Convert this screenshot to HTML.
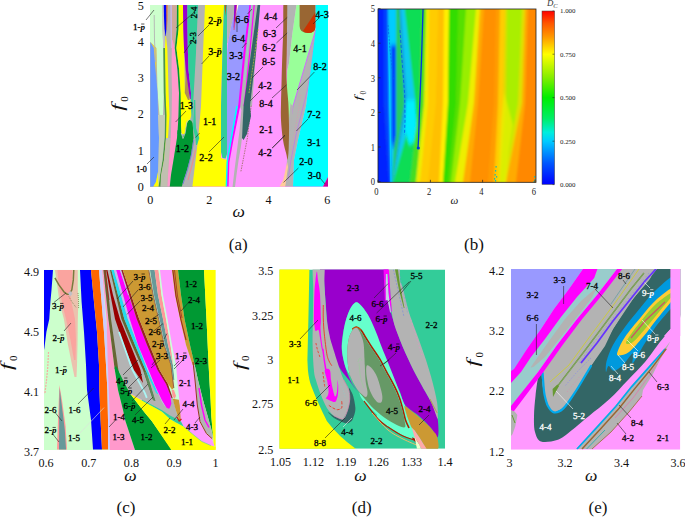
<!DOCTYPE html>
<html><head><meta charset="utf-8"><title>Figure</title>
<style>
html,body{margin:0;padding:0;background:#fff;}
svg{display:block;font-family:"Liberation Serif",serif;}
</style></head><body>
<svg width="685" height="517" viewBox="0 0 685 517">
<rect width="685" height="517" fill="#fff"/>
<clipPath id="ca"><rect x="150.0" y="5.0" width="178.0" height="181.9"/></clipPath>
<g clip-path="url(#ca)">
<polygon points="150.0,5.0 328.0,5.0 328.0,186.9 150.0,186.9" fill="#ff99ff" />
<polygon points="150.0,5.0 206.0,5.0 202.0,106.0 193.0,187.0 150.0,187.0" fill="#b3b3b3" />
<polygon points="150.0,5.0 150.0,29.0 150.0,42.0 156.3,48.0 157.0,70.0 157.6,93.0 159.5,115.0 161.0,126.0 162.0,126.0 163.0,115.0 163.8,93.0 163.5,70.0 163.3,48.0 163.0,42.0 162.5,29.0 162.4,5.0" fill="#ccffcc" />
<polygon points="150.4,42.0 153.7,48.0 155.0,60.0 155.8,75.0 156.2,75.0 156.5,60.0 156.3,48.0 150.6,42.0" fill="#e8d040" />
<polygon points="150.4,42.0 150.4,48.0 150.4,70.0 150.4,93.0 150.4,115.0 150.4,138.0 150.4,160.0 150.4,172.0 150.4,182.0 150.4,186.5 153.3,186.5 156.0,182.0 158.0,172.0 158.5,160.0 159.0,138.0 158.0,115.0 157.6,93.0 155.5,70.0 153.7,48.0 150.4,42.0" fill="#6699ff" />
<polygon points="158.0,172.0 156.0,182.0 153.3,186.5 158.6,186.5 159.5,182.0 159.5,172.0" fill="#ffff00" />
<polyline points="154.2,15.0 154.5,40.0 155.5,62.0" fill="none" stroke="#b3b3b3" stroke-width="0.9" />
<polygon points="162.4,5.0 162.5,29.0 163.3,48.0 165.0,48.0 164.0,29.0 163.8,5.0" fill="#c8c8c8" />
<polygon points="163.8,5.0 164.0,18.0 164.6,29.0 165.5,36.0 165.8,36.0 166.4,29.0 166.6,18.0 166.4,5.0" fill="#0000ff" />
<polygon points="166.4,5.0 166.6,20.0 166.6,30.0 166.9,30.0 167.6,20.0 167.7,5.0" fill="#ff6600" />
<polygon points="167.7,5.0 167.5,29.0 167.3,48.0 168.0,70.0 168.6,93.0 169.5,115.0 168.0,138.0 170.7,138.0 171.6,115.0 172.5,93.0 171.5,70.0 170.8,48.0 170.5,29.0 170.3,5.0" fill="#b3b3b3" />
<polygon points="170.3,5.0 170.5,29.0 170.8,48.0 172.0,48.0 172.0,29.0 172.0,5.0" fill="#c8b4e0" />
<polygon points="172.0,5.0 172.0,29.0 172.0,48.0 174.3,48.0 176.5,29.0 177.0,5.0" fill="#cfa898" />
<polygon points="165.5,36.0 165.0,48.0 165.2,70.0 165.5,93.0 166.4,115.0 166.0,138.0 164.0,160.0 161.0,175.0 163.0,175.0 166.0,160.0 168.0,138.0 169.5,115.0 168.6,93.0 168.0,70.0 167.3,48.0 166.0,36.0" fill="#ffff00" />
<polygon points="163.3,48.0 163.6,70.0 163.8,93.0 165.0,115.0 164.5,138.0 162.5,160.0 160.0,175.0 158.6,186.5 160.6,186.5 161.5,175.0 164.0,160.0 166.0,138.0 166.4,115.0 165.5,93.0 165.2,70.0 165.0,48.0" fill="#4c9944" />
<polygon points="158.0,115.0 159.0,138.0 158.5,160.0 158.0,175.0 158.6,186.5 158.6,186.5 160.0,175.0 162.5,160.0 164.5,138.0 165.0,115.0" fill="#c4ccb8" />
<polygon points="166.0,138.0 164.0,160.0 161.0,175.0 160.6,186.5 167.4,186.5 168.0,175.0 169.0,160.0 170.7,138.0" fill="#c0c0b0" />
<polygon points="172.0,40.0 171.8,48.0 171.5,70.0 172.0,93.0 171.6,115.0 170.7,138.0 169.0,160.0 168.0,175.0 167.4,186.5 169.8,186.5 171.0,175.0 173.5,160.0 177.0,138.0 178.5,115.0 179.0,93.0 177.5,70.0 174.8,48.0 172.5,40.0" fill="#ff99cc" />
<polygon points="177.0,5.0 176.8,29.0 174.8,48.0 177.5,70.0 179.0,93.0 178.5,115.0 177.5,134.0 181.5,134.0 181.0,115.0 180.7,93.0 179.2,70.0 176.4,48.0 178.6,29.0 178.6,5.0" fill="#009933" />
<polygon points="178.6,5.0 178.6,29.0 176.4,48.0 179.2,70.0 180.7,93.0 180.8,100.0 181.0,115.0 181.0,125.0 181.5,134.0 185.0,134.0 188.0,125.0 191.5,115.0 190.5,100.0 184.8,93.0 184.5,70.0 184.0,48.0 183.3,29.0 183.0,5.0" fill="#ffff00" />
<polygon points="185.5,60.0 185.5,80.0 184.8,93.0 188.0,100.0 189.5,100.0 189.0,93.0 187.5,80.0 186.0,60.0" fill="#b09050" />
<polygon points="183.0,5.0 183.3,29.0 184.0,48.0 185.8,70.0 189.0,93.0 190.0,99.0 190.8,99.0 191.0,93.0 188.5,70.0 187.8,48.0 187.5,29.0 187.4,5.0" fill="#9900cc" />
<polygon points="187.4,5.0 187.5,29.0 187.8,48.0 188.5,70.0 191.0,93.0 190.8,102.0 191.5,115.0 192.5,128.0 193.2,128.0 194.0,115.0 194.5,102.0 195.3,93.0 196.0,70.0 196.6,48.0 198.0,29.0 198.4,5.0" fill="#33cc99" />
<polygon points="198.0,5.0 205.0,5.0 203.0,53.0 201.0,106.0 198.0,140.0 193.0,186.4 187.0,186.4 191.0,150.0 193.0,106.0 196.0,53.0" fill="#b3b3b3" />
<polygon points="205.0,5.0 224.0,5.0 222.4,53.0 221.0,106.0 221.0,158.0 227.0,160.0 227.0,186.4 192.4,186.4 198.0,140.0 201.0,106.0 203.0,53.0" fill="#ffff00" />
<path d="M181.5,134 Q183,139 185,133 Q186.5,122 189,120 Q191.5,119.5 192.5,123 L193,128 L193.5,138 L191,155 L187,170 L183,182 L181.9,186.5 L169.8,186.5 L171,175 L173.5,160 L177,138 L177.5,130 Z" fill="#009933" />
<polyline points="181.3,133.0 183.0,138.5 185.2,133.0 186.7,122.0 189.0,119.5" fill="none" stroke="#c8c8c8" stroke-width="0.8" />
<polygon points="194.0,100.0 193.5,115.0 193.0,128.0 195.4,138.0 196.0,145.0 197.0,145.0 199.3,138.0 196.0,128.0 195.5,115.0 195.3,100.0" fill="#33cc99" />
<polyline points="193.8,140.0 191.3,155.0 187.5,170.0 183.0,184.0" fill="none" stroke="#7070e0" stroke-width="0.8" />
<polyline points="195.5,150.0 192.0,165.0 188.0,180.0" fill="none" stroke="#e89090" stroke-width="1.2" />
<polygon points="224.0,5.0 227.4,5.0 227.0,53.0 227.0,106.0 227.0,154.0 225.6,158.4 222.4,158.0 221.0,152.0 221.0,106.0 222.4,53.0" fill="#33cc99" />
<polygon points="227.0,5.0 236.4,5.0 231.0,27.0 228.0,43.0 227.4,43.0" fill="#b3b3b3" />
<polygon points="236.0,5.0 250.4,5.0 244.4,53.0 239.2,106.0 232.4,140.0 228.4,162.0 227.0,161.0 227.0,106.0 227.2,53.0 228.0,43.0 231.0,27.0" fill="#9999ff" />
<polygon points="250.8,5.0 260.0,5.0 256.0,53.0 252.0,106.0 244.2,110.0 243.5,125.0 241.0,146.0 238.6,160.0 236.5,175.0 235.0,187.0 232.5,187.0 234.5,170.0 237.0,150.0 239.6,130.0 241.4,110.0 239.6,106.0 244.8,53.0" fill="#b3b3b3" />
<polyline points="251.2,105.7 247.4,138.0 240.8,172.0" fill="none" stroke="#886644" stroke-width="0.7" stroke-dasharray="1.5,1"/>
<polyline points="250.4,5.0 244.4,53.0 239.2,106.0 232.4,140.0 228.4,162.0 227.6,186.4" fill="none" stroke="#ff00ff" stroke-width="2" />
<polyline points="237.0,106.0 231.0,140.0 227.2,162.0 226.4,186.4" fill="none" stroke="#00ffff" stroke-width="1.5" />
<polyline points="251.6,5.0 247.6,48.0 244.5,80.0" fill="none" stroke="#99cccc" stroke-width="1.4" />
<polyline points="254.2,5.0 250.2,48.0 246.5,85.0 244.0,106.0" fill="none" stroke="#ff00ff" stroke-width="1.2" />
<polygon points="234.3,5.0 237.0,5.0 235.0,20.0 233.6,29.0" fill="#9900cc" />
<polyline points="236.8,5.0 235.0,22.0 234.0,30.0" fill="none" stroke="#ee3366" stroke-width="0.7" />
<polygon points="237.0,5.0 238.4,5.0 236.5,14.0" fill="#ffffdd" />
<polygon points="224.6,5.0 226.4,5.0 225.4,16.0" fill="#bb5522" />
<polygon points="257.6,5.0 260.2,5.0 256.0,53.0 250.0,106.0 251.0,116.0 247.0,134.0 243.6,140.0 242.0,138.0 243.6,106.0 251.0,53.0" fill="#336666" />
<polyline points="258.4,29.0 249.0,93.0" fill="none" stroke="#cccc33" stroke-width="0.7" stroke-dasharray="2,1"/>
<polygon points="287.0,5.0 296.4,5.0 292.4,33.0 289.0,63.0 287.2,71.0" fill="#b3b3b3" />
<polygon points="296.4,5.0 300.0,5.0 300.0,29.0 315.6,29.0 315.6,31.0 293.0,106.0 290.0,112.0 286.4,106.0 287.2,71.0 289.0,63.0 292.4,33.0" fill="#99ff99" />
<polygon points="315.6,31.0 306.0,106.0 298.0,140.0 294.0,160.0 293.0,186.4 285.0,186.4 287.0,160.0 289.0,130.0 293.0,106.0" fill="#b3b3b3" />
<polyline points="315.6,30.0 293.0,106.0 289.0,130.0" fill="none" stroke="#cc66ff" stroke-width="0.9" />
<polygon points="286.5,100.0 293.0,106.0 290.5,135.0 288.0,150.0 287.0,150.0" fill="#b3b3b3" />
<polygon points="286.8,100.0 290.5,104.0 288.6,122.0 287.6,122.0" fill="#99ff99" />
<polyline points="315.6,30.0 311.0,70.0 307.4,90.0 296.0,135.0 291.0,160.0 288.0,180.0" fill="none" stroke="#bb77ee" stroke-width="0.7" />
<polyline points="301.0,95.0 296.0,125.0 291.0,150.0" fill="none" stroke="#ee88aa" stroke-width="0.6" stroke-dasharray="1,1.5"/>
<path d="M283.6,0.0 C284.2,-5.0 286.4,-5.0 287.0,0.0 C287.6,5.0 287.0,21.2 287.0,30.0 C287.0,38.8 286.9,44.7 286.8,53.0 C286.7,61.3 286.3,71.5 286.6,80.0 C286.9,88.5 288.0,96.5 288.4,104.0 C288.8,111.5 288.9,117.7 289.0,125.0 C289.1,132.3 288.9,142.2 288.7,148.0 C288.5,153.8 288.0,158.5 287.6,159.5 C287.2,160.5 287.1,157.2 286.3,154.0 C285.5,150.8 283.9,145.7 283.0,140.0 C282.1,134.3 281.3,126.0 281.0,120.0 C280.7,114.0 280.9,110.7 281.0,104.0 C281.1,97.3 281.4,88.5 281.6,80.0 C281.8,71.5 282.1,61.3 282.4,53.0 C282.7,44.7 283.0,38.8 283.2,30.0 C283.4,21.2 283.0,5.0 283.6,0.0 Z" fill="#996633" />
<path d="M299.6,5 L315.6,5 L315.6,27 Q315,33 308,33 Q299.6,33 299.6,26 Z" fill="#996633" />
<path d="M315.6,12 L315.6,27 Q315,33 308,33 Q305,33 303,31 Z" fill="#cc3300" />
<polygon points="315.6,5.0 328.0,5.0 328.0,106.0 328.0,177.0 323.0,186.4 293.0,186.4 294.0,160.0 298.0,140.0 306.0,106.0 315.6,31.0" fill="#00ffff" />
<polygon points="279.6,186.4 285.2,186.4 288.0,167.0 287.2,162.0 283.2,180.0" fill="#ffcc99" />
<polygon points="328.0,177.0 328.0,186.4 323.0,186.4" fill="#cc0099" />
</g>
<clipPath id="cb"><rect x="378.0" y="9.0" width="158.0" height="173.3"/></clipPath>
<filter id="blb" x="-5%" y="-5%" width="110%" height="110%"><feGaussianBlur stdDeviation="1.3 2"/></filter>
<g clip-path="url(#cb)"><rect x="370" y="0" width="175" height="192" fill="#ff9900"/><g filter="url(#blb)">
<polygon points="370.0,0.0 384.5,0.0 384.5,9.0 384.5,103.0 389.5,182.0 389.5,195.0 370.0,195.0 370.0,182.0 370.0,103.0 370.0,9.0" fill="#0022ff" />
<polygon points="384.0,0.0 388.5,0.0 388.5,9.0 389.5,103.0 391.5,182.0 391.5,195.0 389.0,195.0 389.0,182.0 384.0,103.0 384.0,9.0" fill="#0044ff" />
<polygon points="388.0,0.0 396.5,0.0 396.5,9.0 396.5,103.0 392.5,182.0 392.5,195.0 391.0,195.0 391.0,182.0 389.0,103.0 388.0,9.0" fill="#00ccff" />
<polygon points="396.0,0.0 400.0,0.0 400.0,9.0 405.0,103.0 393.0,182.0 393.0,195.0 392.0,195.0 392.0,182.0 396.0,103.0 396.0,9.0" fill="#22cc66" />
<polygon points="399.5,0.0 401.5,0.0 401.5,9.0 407.5,103.0 393.3,182.0 393.3,195.0 392.5,195.0 392.5,182.0 404.5,103.0 399.5,9.0" fill="#1199ee" />
<polygon points="401.0,0.0 405.2,0.0 405.2,9.0 416.0,103.0 393.5,182.0 393.5,195.0 392.8,195.0 392.8,182.0 407.0,103.0 401.0,9.0" fill="#11ccee" />
<polygon points="404.7,0.0 422.5,0.0 422.5,9.0 419.5,103.0 410.5,182.0 410.5,195.0 393.0,195.0 393.0,182.0 415.5,103.0 404.7,9.0" fill="#11dd55" />
<polygon points="422.0,0.0 426.5,0.0 426.5,9.0 424.5,103.0 416.5,182.0 416.5,195.0 410.0,195.0 410.0,182.0 419.0,103.0 422.0,9.0" fill="#44dd22" />
<polygon points="426.0,0.0 429.5,0.0 429.5,9.0 428.5,103.0 420.5,182.0 420.5,195.0 416.0,195.0 416.0,182.0 424.0,103.0 426.0,9.0" fill="#eeee00" />
<polygon points="429.0,0.0 438.5,0.0 438.5,9.0 436.5,103.0 428.5,182.0 428.5,195.0 420.0,195.0 420.0,182.0 428.0,103.0 429.0,9.0" fill="#ffcc00" />
<polygon points="438.0,0.0 444.5,0.0 444.5,9.0 443.5,103.0 439.5,182.0 439.5,195.0 428.0,195.0 428.0,182.0 436.0,103.0 438.0,9.0" fill="#ffc000" />
<polygon points="444.0,0.0 449.5,0.0 449.5,9.0 448.5,103.0 443.5,182.0 443.5,195.0 439.0,195.0 439.0,182.0 443.0,103.0 444.0,9.0" fill="#ffee00" />
<polygon points="449.0,0.0 458.5,0.0 458.5,9.0 456.5,103.0 448.5,182.0 448.5,195.0 443.0,195.0 443.0,182.0 448.0,103.0 449.0,9.0" fill="#33dd00" />
<polygon points="458.0,0.0 466.5,0.0 466.5,9.0 460.5,103.0 451.5,182.0 451.5,195.0 448.0,195.0 448.0,182.0 456.0,103.0 458.0,9.0" fill="#55e000" />
<polygon points="466.0,0.0 476.5,0.0 476.5,9.0 468.5,103.0 455.5,182.0 455.5,195.0 451.0,195.0 451.0,182.0 460.0,103.0 466.0,9.0" fill="#99ee00" />
<polygon points="476.0,0.0 480.5,0.0 480.5,9.0 474.5,103.0 463.5,182.0 463.5,195.0 455.0,195.0 455.0,182.0 468.0,103.0 476.0,9.0" fill="#eeee00" />
<polygon points="480.0,0.0 484.5,0.0 484.5,9.0 478.5,103.0 470.5,182.0 470.5,195.0 463.0,195.0 463.0,182.0 474.0,103.0 480.0,9.0" fill="#ffaa00" />
<polygon points="484.0,0.0 496.5,0.0 496.5,9.0 494.5,103.0 488.5,182.0 488.5,195.0 470.0,195.0 470.0,182.0 478.0,103.0 484.0,9.0" fill="#ff9000" />
<polygon points="496.0,0.0 500.5,0.0 500.5,9.0 498.5,103.0 494.5,182.0 494.5,195.0 488.0,195.0 488.0,182.0 494.0,103.0 496.0,9.0" fill="#ff9c00" />
<polygon points="500.0,0.0 505.5,0.0 505.5,9.0 503.5,103.0 499.5,182.0 499.5,195.0 494.0,195.0 494.0,182.0 498.0,103.0 500.0,9.0" fill="#ffcc00" />
<polygon points="505.0,0.0 507.5,0.0 507.5,9.0 506.5,103.0 500.5,182.0 500.5,195.0 499.0,195.0 499.0,182.0 503.0,103.0 505.0,9.0" fill="#dddd00" />
<polygon points="507.0,0.0 522.5,0.0 522.5,9.0 518.5,103.0 504.5,182.0 504.5,195.0 500.0,195.0 500.0,182.0 506.0,103.0 507.0,9.0" fill="#aaee00" />
<polygon points="522.0,0.0 525.5,0.0 525.5,9.0 522.5,103.0 506.5,182.0 506.5,195.0 504.0,195.0 504.0,182.0 518.0,103.0 522.0,9.0" fill="#e0e000" />
<polygon points="525.0,0.0 528.5,0.0 528.5,9.0 525.5,103.0 516.5,182.0 516.5,195.0 506.0,195.0 506.0,182.0 522.0,103.0 525.0,9.0" fill="#ffaa00" />
<polygon points="528.0,0.0 545.5,0.0 545.5,9.0 545.5,103.0 545.5,182.0 545.5,195.0 516.0,195.0 516.0,182.0 525.0,103.0 528.0,9.0" fill="#ff8800" />
<polygon points="504.0,92.0 513.0,125.0 509.0,150.0 505.0,195.0 498.5,195.0 499.5,150.0 501.0,120.0" fill="#eeee00" opacity="0.7"/>
<polygon points="390.8,45.0 396.0,45.0 396.0,135.0 393.5,150.0 391.5,140.0" fill="#0044ff" />
<polygon points="406.0,100.0 415.0,100.0 416.5,125.0 414.0,142.0 409.0,145.0 405.0,130.0" fill="#00eeff" />
</g>
<polyline points="423.0,9.0 421.5,60.0 419.5,110.0 418.5,140.0 418.0,148.0" fill="none" stroke="#0033dd" stroke-width="1.3" />
<polyline points="388.5,35.0 389.8,95.0 390.5,150.0 391.0,182.0" fill="none" stroke="#00ccff" stroke-width="1.1" />
<polyline points="400.0,30.0 402.0,60.0 404.7,95.0 405.0,120.0 404.5,135.0" fill="none" stroke="#0055ee" stroke-width="0.8" stroke-dasharray="3,2"/>
<polyline points="388.0,25.0 390.0,50.0 393.5,80.0" fill="none" stroke="#0066ee" stroke-width="0.7" stroke-dasharray="2,1.5"/>
<circle cx="418.3" cy="148" r="1.6" fill="#0033dd"/>
<rect x="495.5" y="166.0" width="1.2" height="1.6" fill="#22bbaa"/>
<rect x="495.0" y="170.0" width="1.2" height="1.6" fill="#22bbaa"/>
<rect x="494.5" y="174.0" width="1.2" height="1.6" fill="#22bbaa"/>
<rect x="494.0" y="178.0" width="1.2" height="1.6" fill="#22bbaa"/>
<rect x="495.0" y="180.0" width="1.2" height="1.6" fill="#22bbaa"/>
<rect x="496.0" y="176.0" width="1.2" height="1.6" fill="#22bbaa"/>
<rect x="534.0" y="176.0" width="1.2" height="1.6" fill="#22bbaa"/>
<rect x="534.5" y="179.0" width="1.2" height="1.6" fill="#22bbaa"/>
<rect x="533.5" y="181.0" width="1.2" height="1.6" fill="#22bbaa"/>
</g>
<rect x="378.0" y="9.0" width="158.0" height="173.3" fill="none" stroke="#222" stroke-width="0.8"/>
<line x1="378" x2="380.5" y1="181.6" y2="181.6" stroke="#222" stroke-width="0.7"/>
<line x1="378" x2="380.5" y1="147.0" y2="147.0" stroke="#222" stroke-width="0.7"/>
<line x1="378" x2="380.5" y1="112.4" y2="112.4" stroke="#222" stroke-width="0.7"/>
<line x1="378" x2="380.5" y1="77.8" y2="77.8" stroke="#222" stroke-width="0.7"/>
<line x1="378" x2="380.5" y1="43.2" y2="43.2" stroke="#222" stroke-width="0.7"/>
<line x1="378" x2="380.5" y1="8.6" y2="8.6" stroke="#222" stroke-width="0.7"/>
<line y1="182.3" y2="179.8" x1="378.0" x2="378.0" stroke="#222" stroke-width="0.7"/>
<line y1="182.3" y2="179.8" x1="430.4" x2="430.4" stroke="#222" stroke-width="0.7"/>
<line y1="182.3" y2="179.8" x1="482.6" x2="482.6" stroke="#222" stroke-width="0.7"/>
<line y1="182.3" y2="179.8" x1="535.0" x2="535.0" stroke="#222" stroke-width="0.7"/>
<linearGradient id="cbar" x1="0" y1="1" x2="0" y2="0"><stop offset="0" stop-color="#0000ff"/><stop offset="0.12" stop-color="#0055ff"/><stop offset="0.25" stop-color="#00ccff"/><stop offset="0.3" stop-color="#00eedd"/><stop offset="0.38" stop-color="#00ee66"/><stop offset="0.5" stop-color="#00ee00"/><stop offset="0.62" stop-color="#88ee00"/><stop offset="0.75" stop-color="#ffff00"/><stop offset="0.85" stop-color="#ff9900"/><stop offset="0.93" stop-color="#ff5500"/><stop offset="1" stop-color="#ff0000"/></linearGradient>
<rect x="542" y="11" width="12.6" height="173.4" fill="url(#cbar)" stroke="#444" stroke-width="0.5"/>
<line x1="552.5" x2="554.4" y1="11.0" y2="11.0" stroke="#222" stroke-width="0.6"/>
<line x1="552.5" x2="554.4" y1="54.2" y2="54.2" stroke="#222" stroke-width="0.6"/>
<line x1="552.5" x2="554.4" y1="97.6" y2="97.6" stroke="#222" stroke-width="0.6"/>
<line x1="552.5" x2="554.4" y1="141.2" y2="141.2" stroke="#222" stroke-width="0.6"/>
<line x1="552.5" x2="554.4" y1="184.6" y2="184.6" stroke="#222" stroke-width="0.6"/>
<clipPath id="cc"><rect x="44.0" y="269.8" width="171.6" height="180.2"/></clipPath>
<g clip-path="url(#cc)">
<polygon points="44.0,269.8 215.6,269.8 215.6,450.0 44.0,450.0" fill="#ccffcc" />
<polygon points="54.9,270.0 77.8,270.0 77.8,288.0 78.3,303.0 77.8,319.0 77.5,345.0 77.0,365.0 76.5,377.0 74.5,377.0 72.0,365.0 68.0,345.0 63.9,319.0 60.9,307.7 58.9,297.8 56.9,283.0" fill="#ff9999" opacity="0.6"/>
<polygon points="57.5,270.0 72.5,270.0 72.0,284.0 70.0,293.0 72.0,305.0 75.0,319.0 76.0,340.0 75.5,360.0 74.0,360.0 70.5,340.0 66.0,319.0 62.5,305.0 60.0,292.0 58.5,283.0" fill="#ff9999" opacity="0.75"/>
<path d="M48.5,352.0 C48.4,354.3 48.1,361.3 47.8,366.0 C47.5,370.7 47.0,375.3 46.5,380.0 C46.0,384.7 45.1,391.7 44.8,394.0" fill="none" stroke="#ff9999" stroke-width="1.2" stroke-dasharray="2,1" opacity="0.8"/>
<polygon points="44.0,270.0 53.0,270.0 51.5,290.0 50.4,302.0 49.3,319.0 46.4,332.0 44.4,348.0 44.0,350.0" fill="#0000ff" />
<polygon points="57.0,449.6 58.0,420.0 59.4,385.0 62.0,400.0 65.6,426.0 67.0,449.6" fill="#ff9999" />
<polygon points="59.0,449.6 59.2,420.0 59.6,388.0 62.4,410.0 64.8,430.0 66.0,449.6" fill="#669999" />
<polyline points="54.9,277.9 58.9,284.9 63.9,291.8 67.3,294.3 69.3,294.3 71.8,289.8 73.3,279.9 73.8,270.0" fill="none" stroke="#7a7a3c" stroke-width="1.5" stroke-linejoin="round"/>
<polyline points="68.8,296.5 72.0,302.0 76.5,308.0" fill="none" stroke="#8a8a5c" stroke-width="0.9" stroke-dasharray="1,1"/>
<polyline points="78.0,293.0 78.5,300.0 78.6,308.0" fill="none" stroke="#8a8a5c" stroke-width="0.9" stroke-dasharray="1,1"/>
<polygon points="68.0,293.0 71.0,291.0 72.5,294.0 70.0,296.5" fill="#c0c0c8" />
<polygon points="80.0,270.0 91.0,270.0 94.0,302.0 97.0,332.0 99.0,365.0 99.4,390.0 100.6,420.0 102.0,449.6 93.0,449.6 91.0,420.0 87.0,390.0 86.0,365.0 84.0,332.0 81.6,302.0" fill="#0000ff" />
<polygon points="91.0,270.0 99.0,270.0 101.6,302.0 104.0,332.0 106.0,365.0 107.4,390.0 108.0,420.0 108.0,449.6 102.0,449.6 100.6,420.0 99.4,390.0 99.0,365.0 97.0,332.0 94.0,302.0" fill="#ff6600" />
<polygon points="99.0,270.0 102.0,270.0 104.4,302.0 107.0,332.0 109.0,365.0 109.6,390.0 110.0,420.0 110.0,449.6 108.0,449.6 108.0,420.0 107.4,390.0 106.0,365.0 104.0,332.0 101.6,302.0" fill="#ccccff" />
<polygon points="102.0,270.0 106.5,319.0 108.0,370.0 109.5,410.0 110.0,450.0 135.0,450.0 125.4,421.0 123.0,410.0 118.0,390.0 114.5,368.0 108.4,319.0 103.4,270.0" fill="#ff99cc" />
<polygon points="103.4,270.0 122.8,270.0 139.2,319.0 159.6,370.0 172.0,395.0 179.0,422.0 161.7,410.7 141.8,399.8 129.9,393.3 124.0,382.0 118.0,370.0 108.4,319.0" fill="#b3b3b3" />
<polygon points="103.4,270.0 108.4,319.0 114.5,368.0 120.0,382.0 121.0,381.0 118.4,370.0 111.0,319.0 106.0,270.0" fill="#666633" />
<polyline points="104.8,270.0 109.0,300.0" fill="none" stroke="#aa2222" stroke-width="0.8" />
<polygon points="106.2,270.0 110.5,295.0 115.0,319.0 124.0,345.0 134.0,370.0 143.0,383.0 143.0,383.0 140.5,370.0 130.5,345.0 120.0,319.0 113.0,295.0 107.4,270.0" fill="#990000" />
<polyline points="119.0,332.0 124.0,346.0 132.0,369.0 144.8,392.8 146.8,397.8" fill="none" stroke="#aaf4f4" stroke-width="1.8" />
<polygon points="110.0,270.0 121.4,319.0 132.0,345.0 143.0,370.0 153.0,400.0 155.0,400.8 145.5,370.0 135.0,345.0 124.3,319.0 111.4,270.0" fill="#666633" />
<polygon points="144.0,372.0 153.0,400.0 155.5,401.0 146.5,372.0" fill="#5a8a5a" />
<polygon points="111.4,270.0 124.3,319.0 135.0,345.0 145.5,370.0 156.0,393.0 158.7,394.8 147.5,370.0 138.0,345.0 127.8,319.0 113.9,270.0" fill="#22ddee" />
<polygon points="113.9,270.0 127.8,319.0 147.5,370.0 162.0,402.0 166.0,408.0 148.7,370.0 129.8,319.0 116.3,270.0" fill="#c8b8f0" />
<polygon points="116.3,270.0 129.8,319.0 138.0,345.0 148.7,370.0 154.7,384.9 161.7,399.8 166.6,407.7 168.9,408.7 169.6,408.2 171.4,403.8 170.2,394.8 165.2,382.0 157.5,370.0 147.0,345.0 136.7,319.0 119.8,270.0" fill="#ff00ff" />
<polygon points="119.8,270.0 128.0,295.0 129.0,295.0 121.3,270.0" fill="#c8b8f0" />
<polygon points="121.3,270.0 136.7,319.0 147.0,345.0 157.5,370.0 166.0,384.0 171.5,398.0 172.5,398.0 168.0,384.0 159.6,370.0 149.5,345.0 139.2,319.0 122.8,270.0" fill="#992222" />
<polygon points="122.8,270.0 148.6,270.0 153.0,295.0 158.5,319.0 164.0,345.0 171.0,365.0 172.5,375.0 173.8,388.0 172.0,389.5 168.0,384.0 159.6,370.0 149.5,345.0 139.2,319.0" fill="#cc9933" />
<polyline points="148.8,270.0 153.2,295.0 158.7,319.0 164.2,345.0 171.0,365.0 173.8,388.0" fill="none" stroke="#884444" stroke-width="0.8" />
<polygon points="150.0,270.0 154.0,295.0 159.5,319.0 165.0,345.0 171.2,365.0 173.2,380.0 174.5,380.0 173.0,365.0 168.0,345.0 163.0,319.0 158.0,295.0 154.6,270.0" fill="#669999" />
<polygon points="154.6,270.0 158.0,295.0 163.0,319.0 168.0,345.0 173.0,365.0 174.0,365.0 170.5,345.0 166.0,319.0 161.5,295.0 158.5,270.0" fill="#ff9999" />
<polygon points="158.5,270.0 161.5,295.0 166.0,319.0 170.5,345.0 173.0,365.0 174.5,380.0 175.5,392.0 177.0,400.0 179.0,400.0 178.5,392.0 177.5,380.0 176.0,365.0 172.0,345.0 167.5,319.0 163.0,295.0 160.0,270.0" fill="#ccffdd" />
<polygon points="171.5,389.5 174.0,390.0 176.0,396.0 174.5,399.0 172.5,396.0" fill="#ff9999" />
<polygon points="172.8,398.8 178.8,399.8 181.0,410.0 182.8,418.0 180.0,422.0 177.0,414.0 174.8,406.7" fill="#cc9933" />
<polygon points="160.0,270.0 172.0,270.0 175.0,295.0 180.0,319.0 186.0,345.0 192.7,365.0 195.0,380.0 197.3,405.0 200.0,423.2 206.4,434.1 211.8,438.6 213.6,443.2 214.5,446.6 210.9,445.7 201.8,441.6 192.7,434.3 183.6,426.6 181.0,423.0 179.4,400.0 177.8,385.0 176.0,365.0 172.0,345.0 167.5,319.0 163.0,295.0" fill="#ff99ff" />
<polygon points="172.0,270.0 175.0,295.0 180.0,319.0 186.0,345.0 192.7,365.0 194.7,365.0 190.0,345.0 184.5,319.0 181.0,295.0 178.0,270.0" fill="#cc9933" />
<polyline points="172.8,270.0 176.0,296.0 181.0,320.0 186.0,340.0" fill="none" stroke="#992222" stroke-width="1" />
<polyline points="174.5,270.0 177.5,296.0 182.0,318.0" fill="none" stroke="#992222" stroke-width="0.7" />
<polygon points="178.0,270.0 204.0,270.0 205.5,300.0 207.0,330.0 208.6,365.0 209.6,385.0 210.6,400.0 211.3,416.0 212.5,430.0 213.2,437.0 211.0,428.0 207.6,416.0 203.0,400.0 198.0,380.0 194.7,365.0 190.0,345.0 184.5,319.0 181.0,295.0" fill="#009933" />
<polygon points="204.0,270.0 216.0,270.0 216.0,451.0 214.5,446.4 213.6,443.0 213.2,437.0 212.5,430.0 211.3,416.0 210.6,400.0 208.6,365.0 207.0,330.0 205.5,300.0" fill="#ffff00" />
<polygon points="114.5,368.0 116.0,366.0 118.0,370.0 124.0,382.0 129.9,393.3 137.8,403.8 144.8,412.7 151.7,421.0 172.0,450.0 135.0,450.0 125.4,421.0 123.0,410.0 118.0,390.0" fill="#009933" />
<polygon points="129.9,393.3 141.8,400.2 161.7,411.5 170.0,419.0 175.5,422.3 183.6,426.4 192.7,434.1 201.8,441.4 210.9,445.5 214.5,446.4 216.0,447.0 216.0,451.0 172.0,451.0 151.7,421.0 144.8,412.7 137.8,403.8" fill="#ffff00" />
<polygon points="141.8,399.6 161.7,410.0 170.0,415.5 176.0,418.5 181.0,421.5 183.6,426.4 175.5,422.3 170.0,419.0 161.7,411.5 141.8,400.4" fill="#33cc99" />
<polyline points="129.9,393.3 141.8,399.8" fill="none" stroke="#dd99dd" stroke-width="0.8" />
<polyline points="183.6,426.5 192.7,434.2 201.8,441.5 210.9,445.6" fill="none" stroke="#66ccaa" stroke-width="0.7" />
<polygon points="193.0,365.0 194.7,365.0 198.0,380.0 203.0,400.0 207.6,416.0 211.0,428.0 213.0,437.5 212.3,438.5 206.4,433.0 200.0,421.0 197.3,405.0 195.0,380.0" fill="#b3b3b3" />
<polyline points="193.0,362.0 195.0,380.0 197.3,405.0 200.0,421.5 206.4,433.5 212.3,438.8" fill="none" stroke="#993322" stroke-width="1" />
<polyline points="199.0,388.0 201.5,405.0 205.0,420.0 209.0,427.5" fill="none" stroke="#ff00ff" stroke-width="1.4" />
<polyline points="177.0,417.0 179.2,421.0 181.5,419.0" fill="none" stroke="#cc2211" stroke-width="1.4" />
</g>
<clipPath id="cd"><rect x="279.4" y="269.6" width="165.7" height="179.2"/></clipPath>
<g clip-path="url(#cd)">
<polygon points="279.4,269.6 445.1,269.6 445.1,448.8 279.4,448.8" fill="#33cc99" />
<path d="M279,269 L309.4,269 L308.4,319 L307.4,360 L307.9,370 Q309,380 310.9,384.9 Q314,393 316.9,399.8 Q320,407 322.8,412.7 Q325,417 326.8,421 Q338,436 356,449 L279,449 Z" fill="#ffff00" />
<path d="M323.8,262.0 C333.8,259.0 373.9,258.2 384.0,262.0 C394.1,265.8 383.7,277.8 384.5,285.0 C385.3,292.2 387.6,299.3 389.0,305.0 C390.4,310.7 391.1,313.2 392.9,319.0 C394.7,324.8 397.0,332.3 400.0,340.0 C403.0,347.7 407.5,357.7 411.0,365.0 C414.5,372.3 417.7,377.8 421.0,384.0 C424.3,390.2 428.2,396.3 431.0,402.0 C433.8,407.7 436.4,412.2 437.5,418.0 C438.6,423.8 438.9,435.3 437.8,437.0 C436.7,438.7 434.1,431.5 431.0,428.0 C427.9,424.5 423.3,419.8 419.0,416.0 C414.7,412.2 408.2,409.0 405.0,405.0 C401.8,401.0 402.2,397.0 400.0,392.0 C397.8,387.0 394.5,380.7 392.0,375.0 C389.5,369.3 387.5,364.2 385.0,358.0 C382.5,351.8 379.3,344.0 377.0,338.0 C374.7,332.0 372.8,326.3 371.0,322.0 C369.2,317.7 367.7,314.8 366.0,312.0 C364.3,309.2 362.6,307.1 361.0,305.5 C359.4,303.9 357.9,302.2 356.4,302.3 C354.9,302.4 353.4,304.1 352.0,306.0 C350.6,307.9 349.2,311.0 348.0,314.0 C346.8,317.0 345.9,320.3 345.0,324.0 C344.1,327.7 343.1,331.8 342.5,336.0 C341.9,340.2 341.4,344.7 341.7,349.0 C341.9,353.3 342.9,357.7 344.0,362.0 C345.1,366.3 346.5,371.2 348.0,375.0 C349.5,378.8 351.2,382.2 353.0,385.0 C354.8,387.8 358.4,391.7 358.6,392.0 C358.8,392.3 355.6,389.0 354.0,387.0 C352.4,385.0 350.7,382.2 349.0,380.0 C347.3,377.8 345.6,376.0 344.0,374.0 C342.4,372.0 341.4,370.7 339.7,368.0 C338.0,365.3 335.6,361.8 334.0,358.0 C332.4,354.2 331.1,350.5 330.0,345.0 C328.9,339.5 328.2,332.5 327.5,325.0 C326.8,317.5 326.1,307.5 325.5,300.0 C324.9,292.5 324.3,286.3 324.0,280.0 C323.7,273.7 313.8,265.0 323.8,262.0 Z" fill="#9900cc" />
<path d="M356.4,302.3 C357.9,302.2 359.3,303.7 361.0,305.5 C362.7,307.3 365.0,310.2 366.8,313.0 C368.6,315.8 370.1,318.6 371.7,322.0 C373.3,325.4 375.0,329.5 376.7,333.7 C378.4,337.9 379.6,341.8 381.7,347.0 C383.8,352.2 386.5,358.8 389.0,365.0 C391.5,371.2 394.1,377.8 396.5,384.0 C398.9,390.2 401.2,396.3 403.5,402.0 C405.8,407.7 407.8,412.3 410.0,418.0 C412.2,423.7 415.8,432.3 417.0,436.0 C418.2,439.7 418.7,440.0 417.5,440.0 C416.3,440.0 413.2,437.7 410.0,436.0 C406.8,434.3 402.0,432.2 398.0,430.0 C394.0,427.8 390.2,426.2 386.0,423.0 C381.8,419.8 377.0,415.0 373.0,411.0 C369.0,407.0 364.4,402.3 362.0,399.0 C359.6,395.7 359.8,393.4 358.6,391.0 C357.4,388.6 356.2,386.7 355.0,384.5 C353.8,382.3 353.0,380.4 351.6,378.0 C350.2,375.6 348.0,372.7 346.7,370.0 C345.4,367.3 344.8,365.5 344.0,362.0 C343.2,358.5 342.1,353.4 341.9,349.0 C341.7,344.6 342.4,339.9 342.9,335.7 C343.4,331.5 344.1,327.4 344.9,323.8 C345.7,320.2 346.7,316.9 347.9,313.9 C349.1,310.9 350.5,307.9 351.9,306.0 C353.3,304.1 354.9,302.4 356.4,302.3 Z" fill="#66ffcc" />
<path d="M352.4,329.3 C353.1,328.9 355.0,327.0 356.4,327.1 C357.8,327.2 359.4,328.2 361.0,330.0 C362.6,331.8 364.2,335.2 366.0,338.0 C367.8,340.8 369.4,343.5 371.7,347.0 C374.0,350.5 377.2,354.8 379.7,358.9 C382.2,363.0 384.1,367.2 386.6,371.8 C389.1,376.4 392.5,382.3 394.6,386.7 C396.8,391.1 398.1,394.1 399.5,398.0 C400.9,401.9 402.0,406.3 403.0,410.0 C404.0,413.7 404.5,417.0 405.5,420.0 C406.5,423.0 408.4,426.7 409.0,428.0" fill="none" stroke="#aa2200" stroke-width="1.6" />
<path d="M352.4,329.3 C353.1,329.0 355.0,327.3 356.4,327.3 C357.8,327.3 359.8,329.1 360.5,329.5" fill="none" stroke="#dd7722" stroke-width="0.8" />
<path d="M356.4,327.8 C355.2,327.8 353.9,328.5 352.6,330.3 C351.3,332.1 349.6,335.0 348.7,338.9 C347.8,342.8 347.2,348.6 347.2,353.8 C347.2,359.0 347.9,365.6 348.7,370.0 C349.5,374.4 350.6,376.8 352.0,380.0 C353.4,383.2 355.0,386.0 357.0,389.0 C359.0,392.0 361.2,394.7 364.0,398.0 C366.8,401.3 370.0,405.3 374.0,409.0 C378.0,412.7 383.0,416.9 388.0,420.0 C393.0,423.1 401.2,427.5 404.0,427.5 C406.8,427.5 404.8,423.1 404.5,420.0 C404.2,416.9 403.0,412.7 402.0,409.0 C401.0,405.3 399.9,401.7 398.5,398.0 C397.1,394.3 395.8,391.1 393.6,386.7 C391.5,382.3 388.1,376.4 385.6,371.8 C383.1,367.2 381.2,363.0 378.7,358.9 C376.2,354.8 373.0,350.5 370.7,347.0 C368.4,343.5 366.8,340.8 365.0,338.0 C363.2,335.2 361.4,332.2 360.0,330.5 C358.6,328.8 357.6,327.8 356.4,327.8 Z" fill="#669966" />
<path d="M356.4,327.8 C355.4,327.9 353.9,328.5 352.6,330.3 C351.3,332.1 349.6,335.0 348.7,338.9 C347.8,342.8 347.2,348.6 347.2,353.8 C347.2,359.0 347.9,365.6 348.7,370.0 C349.5,374.4 350.6,376.8 352.0,380.0 C353.4,383.2 355.5,386.8 357.0,389.0 C358.5,391.2 359.5,392.2 361.0,393.5 C362.5,394.8 364.9,397.2 366.0,397.0 C367.1,396.8 367.6,394.8 367.5,392.0 C367.4,389.2 365.9,384.5 365.5,380.0 C365.1,375.5 365.0,368.6 364.8,365.0 C364.6,361.4 364.7,362.2 364.5,358.7 C364.3,355.2 364.2,347.8 363.6,343.8 C363.0,339.9 361.8,337.3 361.0,335.0 C360.2,332.7 359.4,331.2 358.6,330.0 C357.8,328.8 357.4,327.8 356.4,327.8 Z" fill="#b3b3b3" />
<path d="M366.8,365.5 C367.5,364.7 369.2,365.9 370.5,367.0 C371.8,368.1 373.3,370.2 374.5,372.0 C375.7,373.8 376.6,375.7 377.5,378.0 C378.4,380.3 379.2,383.0 380.0,386.0 C380.8,389.0 382.1,393.3 382.3,396.0 C382.6,398.7 382.2,400.9 381.5,402.0 C380.8,403.1 379.2,403.0 378.0,402.5 C376.8,402.0 375.6,400.4 374.5,399.0 C373.4,397.6 372.4,395.8 371.5,394.0 C370.6,392.2 369.7,390.3 369.0,388.0 C368.3,385.7 367.7,382.7 367.2,380.0 C366.7,377.3 366.3,374.4 366.2,372.0 C366.1,369.6 366.1,366.3 366.8,365.5 Z" fill="#b3b3b3" />
<path d="M357.8,362.0 C358.2,361.3 359.3,358.2 360.0,358.0 C360.7,357.8 361.7,360.5 362.0,361.0" fill="none" stroke="#99cc99" stroke-width="0.6" />
<path d="M359.0,363.0 C359.2,365.3 359.7,372.8 360.5,377.0 C361.3,381.2 363.4,386.2 364.0,388.0" fill="none" stroke="#99cc99" stroke-width="0.6" />
<path d="M378.0,415.0 C379.7,415.6 383.8,419.7 388.0,422.0 C392.2,424.3 399.2,427.7 403.0,429.0 C406.8,430.3 408.5,428.5 411.0,430.0 C413.5,431.5 417.2,436.3 418.0,438.0 C418.8,439.7 418.5,440.4 416.0,440.0 C413.5,439.6 407.7,437.8 403.0,435.5 C398.3,433.2 392.2,429.3 388.0,426.5 C383.8,423.7 379.7,420.4 378.0,418.5 C376.3,416.6 376.3,414.4 378.0,415.0 Z" fill="#66ffcc" />
<path d="M364.0,401.0 C366.3,404.0 374.0,414.7 378.0,419.0 C382.0,423.3 383.8,424.2 388.0,427.0 C392.2,429.8 398.2,433.7 403.0,436.0 C407.8,438.3 413.8,439.6 417.0,441.0 C420.2,442.4 421.2,443.9 422.0,444.5" fill="none" stroke="#aa2200" stroke-width="1.2" />
<path d="M412.0,437.5 C412.3,437.1 416.2,438.8 418.0,440.0 C419.8,441.2 422.8,444.1 422.5,444.5 C422.2,444.9 417.8,443.7 416.0,442.5 C414.2,441.3 411.7,437.9 412.0,437.5 Z" fill="#aa1100" />
<path d="M372.0,413.0 C374.7,415.8 382.8,425.7 388.0,430.0 C393.2,434.3 397.7,436.2 403.0,439.0 C408.3,441.8 417.2,445.2 420.0,446.5" fill="none" stroke="#ffbb66" stroke-width="0.9" />
<path d="M313.4,262.0 C315.2,257.3 321.9,258.2 323.8,262.0 C325.7,265.8 324.0,275.5 324.5,285.0 C325.0,294.5 326.0,310.7 326.8,319.0 C327.6,327.3 328.7,330.8 329.5,335.0 C330.3,339.2 330.1,338.3 331.8,344.0 C333.5,349.7 337.7,363.0 339.7,369.0 C341.7,375.0 342.2,376.4 343.7,379.9 C345.2,383.4 347.7,386.6 348.7,389.9 C349.7,393.2 349.9,396.5 349.7,399.8 C349.5,403.1 348.7,406.7 347.7,409.7 C346.7,412.7 344.7,416.1 343.7,417.7 C342.7,419.3 343.3,419.5 341.7,419.2 C340.1,418.9 336.3,417.6 333.8,415.7 C331.3,413.8 329.0,411.2 326.8,407.7 C324.6,404.2 322.7,399.4 320.9,394.8 C319.1,390.2 317.1,384.0 315.9,379.9 C314.7,375.8 314.4,375.8 313.9,370.0 C313.3,364.2 312.8,353.5 312.6,345.0 C312.4,336.5 312.8,328.2 312.9,319.0 C313.0,309.8 313.1,299.5 313.2,290.0 C313.3,280.5 311.6,266.7 313.4,262.0 Z" fill="#b3b3b3" />
<path d="M349.2,387.9 C349.8,388.4 351.7,392.0 352.5,394.0 C353.3,396.0 353.6,397.6 354.1,399.8 C354.6,402.0 355.1,405.0 355.3,407.0 C355.5,409.0 355.4,410.0 355.1,411.7 C354.8,413.4 354.1,415.4 353.5,417.0 C352.9,418.6 352.7,419.9 351.6,421.0 C350.5,422.1 348.8,423.4 347.0,423.5 C345.2,423.6 343.2,422.4 341.0,421.5 C338.8,420.6 336.2,419.6 334.0,418.0 C331.8,416.4 328.0,412.4 328.0,412.0 C328.0,411.6 331.5,414.7 333.8,415.9 C336.1,417.1 339.9,419.1 341.7,419.4 C343.5,419.7 343.5,419.3 344.5,417.7 C345.5,416.1 347.0,412.7 347.9,409.7 C348.8,406.7 349.7,402.9 349.9,399.8 C350.1,396.7 349.3,393.0 349.2,391.0 C349.1,389.0 348.6,387.4 349.2,387.9 Z" fill="#336666" />
<path d="M333.8,415.7 C335.1,416.2 339.9,418.7 341.7,419.0 C343.5,419.3 343.5,419.1 344.5,417.5 C345.5,415.9 346.8,412.6 347.7,409.7 C348.6,406.8 349.5,403.1 349.7,399.8 C349.9,396.5 349.7,393.2 348.7,389.9 C347.7,386.6 344.5,381.6 343.7,379.9" fill="none" stroke="#e080b0" stroke-width="0.8" />
<path d="M316.9,271.5 C317.3,271.5 317.5,276.4 318.0,280.0 C318.5,283.6 319.4,286.5 319.9,293.0 C320.4,299.5 320.8,313.2 320.9,319.0 C321.0,324.8 320.4,324.5 320.5,328.0 C320.6,331.5 321.1,336.3 321.5,340.0 C321.9,343.7 322.9,348.5 323.0,350.0 C323.1,351.5 322.3,351.0 321.8,349.0 C321.3,347.0 320.6,341.2 320.0,338.0 C319.4,334.8 319.2,331.2 318.5,330.0 C317.8,328.8 316.2,331.8 315.5,331.0 C314.8,330.2 314.7,327.0 314.4,325.0 C314.1,323.0 313.9,324.3 313.9,319.0 C313.9,313.7 314.1,299.5 314.4,293.0 C314.7,286.5 315.1,283.6 315.5,280.0 C315.9,276.4 316.5,271.5 316.9,271.5 Z" fill="#ff00ff" />
<path d="M322.8,348.8 C323.1,350.7 323.8,356.5 324.3,360.0 C324.8,363.5 325.6,368.3 325.8,370.0" fill="none" stroke="#ff00ff" stroke-width="1.5" />
<path d="M324.8,370.0 C325.3,368.3 328.8,368.3 329.8,370.0 C330.8,371.7 330.5,376.7 331.0,380.0 C331.5,383.3 332.3,387.2 333.0,390.0 C333.7,392.8 334.4,396.0 335.0,396.5 C335.6,397.0 336.4,394.9 336.8,393.0 C337.2,391.1 337.4,387.2 337.5,385.0 C337.6,382.8 337.1,380.0 337.2,380.0 C337.3,380.0 338.1,382.7 338.2,385.0 C338.3,387.3 338.3,391.5 338.0,394.0 C337.7,396.5 337.0,398.7 336.5,400.0 C336.0,401.3 335.7,401.8 334.8,402.0 C333.9,402.2 332.3,401.5 331.0,401.0 C329.7,400.5 327.9,399.4 327.0,399.0 C326.1,398.6 325.6,399.2 325.8,398.5 C326.0,397.8 327.6,396.4 328.0,395.0 C328.4,393.6 328.7,392.5 328.5,390.0 C328.3,387.5 327.6,383.3 327.0,380.0 C326.4,376.7 324.3,371.7 324.8,370.0 Z" fill="#ff00ff" />
<path d="M323.3,305.0 C323.3,307.3 323.1,314.2 323.3,319.0 C323.5,323.8 323.7,328.1 324.3,333.9 C324.9,339.7 326.0,349.3 326.8,353.8 C327.6,358.3 328.2,359.0 329.0,361.0 C329.8,363.0 331.3,364.9 331.8,365.7" fill="none" stroke="#ee3322" stroke-width="0.9" />
<path d="M315.9,343.0 C316.2,344.2 316.8,347.7 317.5,350.0 C318.2,352.3 319.5,355.8 319.9,357.0" fill="none" stroke="#ee3322" stroke-width="0.8" stroke-dasharray="2.5,1.5"/>
<path d="M322.8,372.0 C323.0,373.3 323.5,377.5 323.8,380.0 C324.1,382.5 324.6,385.8 324.8,387.0" fill="none" stroke="#ee3322" stroke-width="0.8" stroke-dasharray="2.5,1.5"/>
<path d="M328.8,405.3 C329.5,405.8 331.5,407.3 333.0,408.0 C334.5,408.7 336.2,409.8 337.7,409.7 C339.1,409.6 341.0,409.2 341.7,407.7 C342.4,406.2 341.7,401.9 341.7,400.8" fill="none" stroke="#ee3322" stroke-width="0.9" stroke-dasharray="3,1.5"/>
<path d="M324.5,372.0 C324.8,374.2 325.4,381.7 326.0,385.0 C326.6,388.3 327.7,390.8 328.0,392.0" fill="none" stroke="#9999dd" stroke-width="0.6" stroke-dasharray="1,2"/>
<path d="M340.0,384.0 C340.5,385.0 342.2,387.8 343.0,390.0 C343.8,392.2 344.7,395.8 345.0,397.0" fill="none" stroke="#88cccc" stroke-width="0.6" stroke-dasharray="1,1.5"/>
<path d="M388.9,262.0 C390.5,259.8 397.0,259.0 398.9,262.0 C400.8,265.0 399.4,275.7 400.0,280.0 C400.6,284.3 401.5,283.3 402.8,288.0 C404.1,292.7 406.4,302.8 407.8,308.0 C409.2,313.2 409.4,313.7 411.3,319.0 C413.2,324.3 416.6,333.2 419.0,340.0 C421.4,346.8 423.8,353.0 426.0,360.0 C428.2,367.0 430.7,375.0 432.5,382.0 C434.3,389.0 436.1,396.5 437.0,402.0 C437.9,407.5 437.8,412.3 437.8,415.0 C437.8,417.7 438.3,420.2 437.2,418.0 C436.1,415.8 433.7,407.7 431.0,402.0 C428.3,396.3 424.3,390.2 421.0,384.0 C417.7,377.8 414.5,372.3 411.0,365.0 C407.5,357.7 403.0,347.7 400.0,340.0 C397.0,332.3 394.5,326.8 392.9,319.0 C391.3,311.2 391.0,300.3 390.4,293.0 C389.8,285.7 389.4,280.2 389.2,275.0 C388.9,269.8 387.3,264.2 388.9,262.0 Z" fill="#b3b3b3" />
<polygon points="383.5,269.0 388.9,269.0 390.4,293.0 391.9,311.5 390.9,311.5 388.4,293.0 387.4,274.0 385.8,274.0 385.8,300.5 384.8,300.5 384.2,285.0" fill="#ff00ff" />
<polygon points="385.8,274.0 387.4,274.0 388.4,293.0 390.9,311.5 390.2,313.0 387.5,300.0 385.8,300.5" fill="#c8d0e8" />
<polygon points="394.9,269.0 397.9,269.0 400.0,285.0 404.5,308.0 403.8,308.0 399.0,290.0" fill="#669933" />
<polyline points="393.4,269.5 398.0,290.0 403.8,316.0" fill="none" stroke="#7788dd" stroke-width="0.6" stroke-dasharray="2,1.5"/>
<polyline points="398.4,269.5 403.0,290.0 407.8,314.0" fill="none" stroke="#8899dd" stroke-width="0.5" stroke-dasharray="2,1.5"/>
<path d="M411.0,320.0 C412.0,323.3 415.2,334.0 417.0,340.0 C418.8,346.0 421.2,353.3 422.0,356.0" fill="none" stroke="#ee88cc" stroke-width="0.5" stroke-dasharray="1.5,2"/>
<path d="M404.8,406.0 C405.9,406.1 409.9,409.9 412.0,411.5 C414.1,413.1 415.7,414.2 417.7,415.9 C419.7,417.6 422.0,419.7 424.0,421.5 C426.0,423.3 428.0,425.1 429.6,426.8 C431.2,428.5 432.2,429.9 433.5,431.5 C434.8,433.1 436.4,433.8 437.1,436.7 C437.8,439.6 439.6,446.9 437.9,449.0 C436.2,451.1 429.1,449.8 426.7,449.0 C424.3,448.2 424.7,445.9 423.5,444.0 C422.3,442.1 421.1,439.9 419.7,437.7 C418.3,435.5 416.3,432.6 415.0,431.0 C413.7,429.4 412.9,429.6 411.8,427.8 C410.7,426.0 409.6,422.8 408.5,420.0 C407.4,417.2 406.1,413.3 405.5,411.0 C404.9,408.7 403.7,405.9 404.8,406.0 Z" fill="#cc9933" />
<path d="M430.0,399.0 C430.8,400.5 433.3,405.7 434.5,408.0 C435.7,410.3 436.8,412.2 437.2,413.0" fill="none" stroke="#aa9933" stroke-width="0.8" />
<polygon points="411.8,427.8 415.0,431.0 419.7,437.7 423.5,444.0 426.7,449.0 421.0,449.0 419.0,444.0 414.5,437.0" fill="#ffaaaa" />
<polygon points="414.5,437.0 419.0,444.0 421.0,449.0 417.0,449.0 416.0,444.0" fill="#eeffcc" />
</g>
<clipPath id="ce"><rect x="511.0" y="269.0" width="169.3" height="180.8"/></clipPath>
<g clip-path="url(#ce)">
<polygon points="511.0,269.0 680.3,269.0 680.3,449.8 511.0,449.8" fill="#ff99ff" />
<polygon points="617.0,269.0 670.4,269.0 670.4,329.0 591.0,366.0 575.0,392.0 554.0,413.0 544.0,392.0 538.0,376.0 562.6,345.0 582.2,319.0 602.2,295.0" fill="#b3b3b3" />
<path d="M541.0,371.0 C540.0,368.7 538.9,373.8 538.0,378.0 C537.1,382.2 536.2,389.7 535.5,396.0 C534.8,402.3 534.1,410.0 534.0,416.0 C533.9,422.0 533.8,427.8 535.0,432.0 C536.2,436.2 537.3,440.2 541.0,441.5 C544.7,442.8 552.3,441.5 557.0,440.0 C561.7,438.5 563.7,436.4 569.0,432.4 C574.3,428.4 582.3,421.5 589.0,416.0 C595.7,410.5 602.5,405.6 609.0,399.6 C615.5,393.6 622.0,386.3 628.0,380.0 C634.0,373.7 640.2,367.7 645.0,362.0 C649.8,356.3 653.2,351.0 657.0,346.0 C660.8,341.0 664.2,336.7 668.0,332.0 C671.8,327.3 677.3,325.0 680.0,318.0 C682.7,311.0 683.3,299.3 684.0,290.0 C684.7,280.7 688.5,266.7 684.0,262.0 C679.5,257.3 662.5,259.5 657.0,262.0 C651.5,264.5 653.0,273.2 651.0,277.0 C649.0,280.8 648.0,281.3 645.0,285.0 C642.0,288.7 636.7,294.3 633.0,299.0 C629.3,303.7 626.3,308.0 623.0,313.0 C619.7,318.0 616.7,323.0 613.0,329.0 C609.3,335.0 604.7,342.8 601.0,349.0 C597.3,355.2 595.3,358.8 591.0,366.0 C586.7,373.2 581.2,384.3 575.0,392.0 C568.8,399.7 559.2,412.0 554.0,412.0 C548.8,412.0 546.2,398.8 544.0,392.0 C541.8,385.2 542.0,373.3 541.0,371.0 Z" fill="#336666" />
<polygon points="542.6,373.0 544.0,392.0 548.0,406.0 554.0,412.4 563.4,408.4 575.0,392.4 591.0,366.0 605.0,346.0 613.0,329.0 633.0,299.0 657.0,269.0 621.0,269.0 558.0,346.0" fill="#b3b3b3" />
<path d="M542.6,373.0 C542.7,374.8 543.1,380.3 543.4,384.0 C543.7,387.7 543.8,391.3 544.6,395.0 C545.4,398.7 546.4,403.1 548.0,406.0 C549.6,408.9 551.4,412.0 554.0,412.4 C556.6,412.8 559.9,411.7 563.4,408.4 C566.9,405.1 571.4,397.8 575.0,392.4 C578.6,387.0 582.3,380.4 585.0,376.0 C587.7,371.6 590.0,367.7 591.0,366.0" fill="none" stroke="#00aaee" stroke-width="2.2" stroke-linecap="round"/>
<polygon points="583.0,269.0 617.0,269.0 597.0,295.0 577.0,319.0 557.0,345.0 538.0,372.0 511.0,408.0 511.0,366.0 527.0,349.0 541.0,329.0 554.0,309.0 569.0,289.0" fill="#99cccc" />
<polygon points="595.4,288.6 581.0,301.0 565.0,319.0 549.0,341.0 535.0,361.0 530.6,367.4 533.4,367.0 545.0,357.0 561.0,337.0 577.0,317.0 591.0,299.0 595.8,290.2" fill="#b3b3b3" />
<polygon points="511.0,269.0 583.0,269.0 569.0,289.0 554.0,309.0 541.0,329.0 527.0,349.0 514.0,369.0 511.0,371.0" fill="#9999ff" />
<polygon points="583.0,269.0 597.4,269.0 594.2,278.0 577.0,297.0 561.0,317.0 545.0,339.0 531.0,357.0 521.0,372.0 511.0,383.0 511.0,371.0 514.0,369.0 527.0,349.0 541.0,329.0 554.0,309.0 569.0,289.0" fill="#ff00ff" />
<polygon points="617.0,269.0 622.2,269.0 602.2,295.0 582.2,319.0 562.6,345.0 543.4,372.0 511.0,415.0 511.0,406.0 538.0,372.0 557.0,345.0 577.0,319.0 597.0,295.0" fill="#ff00ff" />
<polyline points="639.0,269.0 615.0,303.0 591.0,335.0 569.0,365.0 550.0,382.0" fill="none" stroke="#cccc33" stroke-width="0.9" />
<polyline points="644.0,273.0 631.0,289.0 607.0,321.0 583.0,353.0 555.4,389.0" fill="none" stroke="#669933" stroke-width="1.3" />
<polyline points="644.0,273.0 631.0,289.0 607.0,321.0 583.0,353.0 558.0,386.0" fill="none" stroke="#b3b3b3" stroke-width="0.4" />
<polyline points="635.0,269.0 611.0,304.0" fill="none" stroke="#5f9ea0" stroke-width="0.7" />
<polyline points="656.0,269.0 645.0,281.0 629.0,301.0 613.0,321.0 597.0,343.0 581.0,363.0" fill="none" stroke="#6633ff" stroke-width="1.8" />
<polyline points="649.0,273.0 625.0,303.0 595.0,341.0 579.0,363.0" fill="none" stroke="#8888ee" stroke-width="0.6" stroke-dasharray="1.5,2.5"/>
<polyline points="591.0,358.0 577.0,372.0 565.0,386.0" fill="none" stroke="#8888ee" stroke-width="0.6" stroke-dasharray="1.5,1.5"/>
<polyline points="585.0,370.0 567.0,392.0" fill="none" stroke="#dd88aa" stroke-width="0.5" stroke-dasharray="1.5,1.5"/>
<polygon points="552.6,389.0 557.4,384.4 559.0,386.0 555.4,392.4 553.0,397.0" fill="#669933" />
<path d="M677.0,275.0 C673.7,273.3 663.0,283.7 657.0,289.0 C651.0,294.3 646.3,300.7 641.0,307.0 C635.7,313.3 629.7,320.7 625.0,327.0 C620.3,333.3 616.1,339.3 613.0,345.0 C609.9,350.7 607.8,356.5 606.6,361.0 C605.4,365.5 605.7,371.2 606.0,372.0 C606.3,372.8 607.3,366.2 608.6,366.0 C609.9,365.8 611.5,371.1 614.0,370.8 C616.5,370.5 620.2,367.4 623.4,364.4 C626.6,361.4 631.4,353.2 633.0,353.0 C634.6,352.8 631.0,364.7 633.0,363.0 C635.0,361.3 641.0,349.3 645.0,343.0 C649.0,336.7 651.7,332.3 657.0,325.0 C662.3,317.7 673.7,307.3 677.0,299.0 C680.3,290.7 680.3,276.7 677.0,275.0 Z" fill="#0099dd" />
<path d="M677.0,285.0 C673.7,285.9 663.0,293.7 657.0,299.0 C651.0,304.3 646.3,310.7 641.0,317.0 C635.7,323.3 628.8,331.4 625.0,337.0 C621.2,342.6 619.1,347.5 618.0,350.6 C616.9,353.7 616.4,355.2 618.2,355.4 C620.0,355.6 624.9,355.1 629.0,352.0 C633.1,348.9 638.3,342.5 643.0,337.0 C647.7,331.5 651.3,326.3 657.0,319.0 C662.7,311.7 673.7,299.1 677.0,293.4 C680.3,287.7 680.3,284.1 677.0,285.0 Z" fill="#ffcc33" />
<path d="M677.0,289.0 C673.7,291.2 663.0,297.7 657.0,303.0 C651.0,308.3 645.7,315.3 641.0,321.0 C636.3,326.7 631.5,333.3 629.0,337.0 C626.5,340.7 625.5,342.6 626.2,343.4 C626.9,344.2 629.9,344.4 633.0,342.0 C636.1,339.6 640.7,334.0 645.0,329.0 C649.3,324.0 653.7,318.5 659.0,312.0 C664.3,305.5 674.0,293.8 677.0,290.0 C680.0,286.2 680.3,286.8 677.0,289.0 Z" fill="#99cc33" />
<polyline points="665.0,302.0 645.0,321.0 631.0,338.0" fill="none" stroke="#cc5566" stroke-width="1.2" />
<polygon points="670.4,269.0 681.0,269.0 681.0,336.0 664.0,336.0 670.4,329.0" fill="#ff99ff" />
<polygon points="576.0,449.0 595.0,428.0 615.0,406.0 631.0,386.0 647.0,368.0 665.0,348.0 670.2,341.4 667.4,347.0 660.0,360.0 653.0,374.0 643.0,390.0 642.0,396.0 629.0,412.0 611.0,432.0 592.0,449.0" fill="#b3b3b3" />
<polyline points="577.0,449.0 596.0,428.4 615.8,406.6 631.8,386.6 647.8,368.6 665.0,349.0" fill="none" stroke="#00aaee" stroke-width="1.6" />
<polyline points="582.0,449.0 600.0,429.6 619.4,408.0 635.0,388.4 650.6,369.6 666.2,348.8" fill="none" stroke="#996633" stroke-width="1.5" />
<polyline points="592.0,449.0 611.0,432.0 629.0,412.0 642.0,396.0" fill="none" stroke="#996633" stroke-width="0.8" />
<polyline points="615.0,418.0 633.0,398.0 649.0,376.0 657.0,364.0" fill="none" stroke="#ee66aa" stroke-width="0.6" />
<polyline points="586.6,449.0 605.0,430.0" fill="none" stroke="#00aaaa" stroke-width="0.7" />
<polygon points="511.0,410.0 514.6,411.6 517.4,415.0 515.4,426.0 512.6,434.0 511.0,436.0" fill="#b3b3b3" />
<polyline points="512.0,415.0 515.0,423.0" fill="none" stroke="#669933" stroke-width="1" />
</g>
<text x="238.6" y="216.9" font-size="17.5" font-style="italic" text-anchor="middle" fill="#111">ω</text>
<text x="130.5" y="481.2" font-size="17.5" font-style="italic" text-anchor="middle" fill="#111">ω</text>
<text x="360.5" y="481.2" font-size="17.5" font-style="italic" text-anchor="middle" fill="#111">ω</text>
<text x="591.2" y="481.2" font-size="17.5" font-style="italic" text-anchor="middle" fill="#111">ω</text>
<text x="454.5" y="203.5" font-size="11" font-style="italic" text-anchor="middle" fill="#111">ω</text>
<g transform="translate(123.1 110.8) rotate(-90)" fill="#111"><text font-size="17" font-style="italic" transform="scale(1.45 1)">f</text><text x="9.0" y="4.7" font-size="11.0">0</text></g>
<g transform="translate(362.4 100.6) rotate(-90)" fill="#111"><text font-size="11.3" font-style="italic" transform="scale(1.45 1)">f</text><text x="6.0" y="3.1" font-size="7.3">0</text></g>
<g transform="translate(12.3 370.0) rotate(-90)" fill="#111"><text font-size="17" font-style="italic" transform="scale(1.45 1)">f</text><text x="9.0" y="4.7" font-size="11.0">0</text></g>
<g transform="translate(244.5 370.0) rotate(-90)" fill="#111"><text font-size="17" font-style="italic" transform="scale(1.45 1)">f</text><text x="9.0" y="4.7" font-size="11.0">0</text></g>
<g transform="translate(478.3 366.6) rotate(-90)" fill="#111"><text font-size="17" font-style="italic" transform="scale(1.45 1)">f</text><text x="9.0" y="4.7" font-size="11.0">0</text></g>
<text x="547" y="6.4" font-size="8.8" font-style="italic" fill="#333">D<tspan font-size="6.5" dy="1.4">C</tspan></text>
<text x="238.3" y="249.8" font-size="17" text-anchor="middle" fill="#111">(a)</text>
<text x="474.0" y="249.8" font-size="17" text-anchor="middle" fill="#111">(b)</text>
<text x="126.0" y="513.0" font-size="17" text-anchor="middle" fill="#111">(c)</text>
<text x="361.7" y="513.0" font-size="17" text-anchor="middle" fill="#111">(d)</text>
<text x="598.0" y="513.0" font-size="17" text-anchor="middle" fill="#111">(e)</text>
<line x1="146.0" y1="20.0" x2="154.0" y2="10.0" stroke="#222" stroke-width="0.6"/>
<line x1="147.0" y1="164.0" x2="154.0" y2="157.0" stroke="#222" stroke-width="0.6"/>
<line x1="194.4" y1="12.0" x2="176.0" y2="28.0" stroke="#222" stroke-width="0.6"/>
<line x1="194.4" y1="38.0" x2="184.0" y2="53.0" stroke="#222" stroke-width="0.6"/>
<line x1="209.0" y1="25.0" x2="198.0" y2="36.0" stroke="#222" stroke-width="0.6"/>
<line x1="209.0" y1="56.0" x2="201.6" y2="64.0" stroke="#222" stroke-width="0.6"/>
<line x1="237.0" y1="23.0" x2="237.0" y2="32.0" stroke="#222" stroke-width="0.6"/>
<line x1="252.0" y1="9.0" x2="247.6" y2="14.0" stroke="#222" stroke-width="0.6"/>
<line x1="242.0" y1="48.0" x2="246.4" y2="43.0" stroke="#222" stroke-width="0.6"/>
<line x1="263.0" y1="67.0" x2="252.0" y2="78.0" stroke="#222" stroke-width="0.6"/>
<line x1="260.0" y1="91.0" x2="250.0" y2="101.0" stroke="#222" stroke-width="0.6"/>
<line x1="276.0" y1="28.0" x2="287.2" y2="17.4" stroke="#222" stroke-width="0.6"/>
<line x1="276.4" y1="43.0" x2="287.2" y2="33.0" stroke="#222" stroke-width="0.6"/>
<line x1="272.0" y1="98.0" x2="286.4" y2="85.0" stroke="#222" stroke-width="0.6"/>
<line x1="319.0" y1="18.0" x2="313.0" y2="24.0" stroke="#222" stroke-width="0.6"/>
<line x1="314.4" y1="72.0" x2="297.0" y2="90.0" stroke="#222" stroke-width="0.6"/>
<line x1="186.0" y1="111.0" x2="175.6" y2="122.0" stroke="#222" stroke-width="0.6"/>
<line x1="209.0" y1="152.0" x2="224.0" y2="137.0" stroke="#222" stroke-width="0.6"/>
<line x1="199.6" y1="133.0" x2="195.6" y2="137.6" stroke="#222" stroke-width="0.6"/>
<line x1="272.4" y1="148.0" x2="285.0" y2="135.6" stroke="#222" stroke-width="0.6"/>
<line x1="308.0" y1="119.0" x2="296.4" y2="131.0" stroke="#222" stroke-width="0.6"/>
<line x1="298.4" y1="168.0" x2="283.6" y2="182.4" stroke="#222" stroke-width="0.6"/>
<line x1="320.0" y1="178.0" x2="325.0" y2="184.0" stroke="#222" stroke-width="0.6"/>
<line x1="272.0" y1="148.0" x2="285.0" y2="135.0" stroke="#222" stroke-width="0.6"/>
<line x1="54.0" y1="302.4" x2="66.0" y2="293.0" stroke="#222" stroke-width="0.6"/>
<line x1="64.0" y1="331.0" x2="71.0" y2="323.0" stroke="#222" stroke-width="0.6"/>
<line x1="55.0" y1="412.4" x2="62.0" y2="421.0" stroke="#222" stroke-width="0.6"/>
<line x1="78.0" y1="404.0" x2="93.6" y2="388.0" stroke="#222" stroke-width="0.6"/>
<line x1="53.0" y1="434.4" x2="59.0" y2="442.0" stroke="#222" stroke-width="0.6"/>
<line x1="80.0" y1="433.0" x2="104.0" y2="407.6" stroke="#ddd" stroke-width="0.6"/>
<line x1="115.6" y1="420.0" x2="109.0" y2="427.0" stroke="#222" stroke-width="0.6"/>
<line x1="133.0" y1="281.0" x2="117.0" y2="299.0" stroke="#222" stroke-width="0.6"/>
<line x1="138.0" y1="290.0" x2="123.0" y2="307.0" stroke="#222" stroke-width="0.6"/>
<line x1="140.0" y1="301.0" x2="127.0" y2="314.4" stroke="#222" stroke-width="0.6"/>
<line x1="146.0" y1="323.0" x2="159.0" y2="314.4" stroke="#222" stroke-width="0.6"/>
<line x1="150.0" y1="334.0" x2="163.0" y2="323.6" stroke="#222" stroke-width="0.6"/>
<line x1="164.0" y1="339.0" x2="167.0" y2="333.6" stroke="#222" stroke-width="0.6"/>
<line x1="157.0" y1="358.0" x2="152.0" y2="365.0" stroke="#222" stroke-width="0.6"/>
<line x1="188.0" y1="303.0" x2="181.0" y2="311.0" stroke="#222" stroke-width="0.6"/>
<line x1="179.0" y1="361.0" x2="174.0" y2="366.0" stroke="#222" stroke-width="0.6"/>
<line x1="123.0" y1="375.0" x2="138.0" y2="360.0" stroke="#222" stroke-width="0.6"/>
<line x1="128.0" y1="388.0" x2="142.0" y2="374.0" stroke="#222" stroke-width="0.6"/>
<line x1="132.0" y1="401.0" x2="148.0" y2="384.0" stroke="#222" stroke-width="0.6"/>
<line x1="135.0" y1="415.0" x2="153.0" y2="397.0" stroke="#222" stroke-width="0.6"/>
<line x1="165.0" y1="424.0" x2="170.0" y2="418.0" stroke="#222" stroke-width="0.6"/>
<line x1="183.0" y1="409.0" x2="174.0" y2="420.0" stroke="#222" stroke-width="0.6"/>
<line x1="195.0" y1="423.0" x2="200.0" y2="417.0" stroke="#222" stroke-width="0.6"/>
<line x1="160.0" y1="360.0" x2="151.0" y2="368.0" stroke="#222" stroke-width="0.6"/>
<line x1="183.0" y1="360.0" x2="174.0" y2="369.0" stroke="#222" stroke-width="0.6"/>
<line x1="300.0" y1="339.0" x2="318.0" y2="320.0" stroke="#222" stroke-width="0.6"/>
<line x1="411.0" y1="281.0" x2="400.6" y2="293.6" stroke="#222" stroke-width="0.6"/>
<line x1="374.0" y1="298.0" x2="388.0" y2="283.6" stroke="#222" stroke-width="0.6"/>
<line x1="376.6" y1="313.0" x2="409.4" y2="281.6" stroke="#222" stroke-width="0.6"/>
<line x1="396.0" y1="353.0" x2="384.0" y2="364.0" stroke="#222" stroke-width="0.6"/>
<line x1="316.0" y1="399.0" x2="330.0" y2="385.0" stroke="#222" stroke-width="0.6"/>
<line x1="325.0" y1="438.0" x2="345.0" y2="418.0" stroke="#222" stroke-width="0.6"/>
<line x1="343.0" y1="427.0" x2="352.0" y2="418.0" stroke="#eee" stroke-width="0.6"/>
<line x1="429.0" y1="415.0" x2="419.0" y2="425.0" stroke="#222" stroke-width="0.6"/>
<line x1="389.0" y1="360.0" x2="380.0" y2="366.0" stroke="#222" stroke-width="0.6"/>
<line x1="563.6" y1="286.0" x2="563.6" y2="304.0" stroke="#222" stroke-width="0.6"/>
<line x1="536.4" y1="324.0" x2="536.4" y2="355.0" stroke="#222" stroke-width="0.6"/>
<line x1="595.0" y1="289.0" x2="613.0" y2="308.0" stroke="#222" stroke-width="0.6"/>
<line x1="623.0" y1="280.0" x2="626.0" y2="284.0" stroke="#222" stroke-width="0.6"/>
<line x1="644.6" y1="282.6" x2="650.0" y2="288.0" stroke="#fff" stroke-width="0.6"/>
<line x1="642.0" y1="320.0" x2="655.0" y2="334.0" stroke="#fff" stroke-width="0.6"/>
<line x1="627.0" y1="340.0" x2="638.0" y2="351.0" stroke="#fff" stroke-width="0.6"/>
<line x1="618.0" y1="355.0" x2="625.0" y2="363.0" stroke="#fff" stroke-width="0.6"/>
<line x1="556.0" y1="391.0" x2="573.0" y2="409.0" stroke="#fff" stroke-width="0.6"/>
<line x1="611.0" y1="366.0" x2="618.0" y2="374.0" stroke="#fff" stroke-width="0.6"/>
<line x1="649.0" y1="372.0" x2="657.0" y2="382.0" stroke="#222" stroke-width="0.6"/>
<line x1="619.0" y1="405.0" x2="631.0" y2="418.0" stroke="#222" stroke-width="0.6"/>
<line x1="617.0" y1="423.0" x2="626.0" y2="434.0" stroke="#222" stroke-width="0.6"/>
<line x1="217.40" x2="221.00" y1="17.70" y2="17.70" stroke="#000" stroke-width="0.75"/>
<text x="215.0" y="24.3" font-size="10" text-anchor="middle" fill="#000" stroke="#000" stroke-width="0.3">2-<tspan font-style="italic" font-weight="bold" stroke="none">p</tspan></text>
<line x1="217.40" x2="221.00" y1="48.70" y2="48.70" stroke="#000" stroke-width="0.75"/>
<text x="215.0" y="55.3" font-size="10" text-anchor="middle" fill="#000" stroke="#000" stroke-width="0.3">3-<tspan font-style="italic" font-weight="bold" stroke="none">p</tspan></text>
<text x="242.0" y="23.3" font-size="10" text-anchor="middle" fill="#000" stroke="#000" stroke-width="0.3">6-6</text>
<text x="238.4" y="41.9" font-size="10" text-anchor="middle" fill="#000" stroke="#000" stroke-width="0.3">6-4</text>
<text x="236.0" y="59.3" font-size="10" text-anchor="middle" fill="#000" stroke="#000" stroke-width="0.3">3-3</text>
<text x="233.4" y="79.9" font-size="10" text-anchor="middle" fill="#000" stroke="#000" stroke-width="0.3">3-2</text>
<text x="270.6" y="20.3" font-size="10" text-anchor="middle" fill="#000" stroke="#000" stroke-width="0.3">4-4</text>
<text x="269.6" y="37.3" font-size="10" text-anchor="middle" fill="#000" stroke="#000" stroke-width="0.3">6-3</text>
<text x="269.0" y="51.3" font-size="10" text-anchor="middle" fill="#000" stroke="#000" stroke-width="0.3">6-2</text>
<text x="268.6" y="65.3" font-size="10" text-anchor="middle" fill="#000" stroke="#000" stroke-width="0.3">8-5</text>
<text x="265.0" y="89.3" font-size="10" text-anchor="middle" fill="#000" stroke="#000" stroke-width="0.3">4-2</text>
<text x="266.0" y="106.8" font-size="10" text-anchor="middle" fill="#000" stroke="#000" stroke-width="0.3">8-4</text>
<text x="266.0" y="132.9" font-size="10" text-anchor="middle" fill="#000" stroke="#000" stroke-width="0.3">2-1</text>
<text x="265.0" y="156.3" font-size="10" text-anchor="middle" fill="#000" stroke="#000" stroke-width="0.3">4-2</text>
<text x="300.0" y="52.3" font-size="10" text-anchor="middle" fill="#000" stroke="#000" stroke-width="0.3">4-1</text>
<text x="322.0" y="17.7" font-size="10" text-anchor="middle" fill="#000" stroke="#000" stroke-width="0.3">4-3</text>
<text x="320.0" y="70.3" font-size="10" text-anchor="middle" fill="#000" stroke="#000" stroke-width="0.3">8-2</text>
<text x="314.0" y="117.7" font-size="10" text-anchor="middle" fill="#000" stroke="#000" stroke-width="0.3">7-2</text>
<text x="314.0" y="145.7" font-size="10" text-anchor="middle" fill="#000" stroke="#000" stroke-width="0.3">3-1</text>
<text x="306.0" y="165.3" font-size="10" text-anchor="middle" fill="#000" stroke="#000" stroke-width="0.3">2-0</text>
<text x="314.4" y="178.9" font-size="10" text-anchor="middle" fill="#000" stroke="#000" stroke-width="0.3">3-0</text>
<text x="186.4" y="109.3" font-size="10" text-anchor="middle" fill="#000" stroke="#000" stroke-width="0.3">1-3</text>
<text x="209.6" y="124.9" font-size="10" text-anchor="middle" fill="#000" stroke="#000" stroke-width="0.3">1-1</text>
<text x="182.4" y="151.9" font-size="10" text-anchor="middle" fill="#000" stroke="#000" stroke-width="0.3">1-2</text>
<text x="206.0" y="161.3" font-size="10" text-anchor="middle" fill="#000" stroke="#000" stroke-width="0.3">2-2</text>
<line x1="141.16" x2="144.40" y1="24.03" y2="24.03" stroke="#000" stroke-width="0.67"/>
<text x="139.0" y="30.0" font-size="9" text-anchor="middle" fill="#000" stroke="#000" stroke-width="0.3">1-<tspan font-style="italic" font-weight="bold" stroke="none">p</tspan></text>
<text x="141.5" y="171.6" font-size="8" text-anchor="middle" fill="#000" stroke="#000" stroke-width="0.3">1-0</text>
<text x="193.8" y="15.5" font-size="9" text-anchor="middle" fill="#000" stroke="#000" stroke-width="0.3" transform="rotate(-90 193.8 12.5)">2-4</text>
<text x="193.2" y="41.0" font-size="9" text-anchor="middle" fill="#000" stroke="#000" stroke-width="0.3" transform="rotate(-90 193.2 38.0)">2-3</text>
<text transform="translate(372.8 185.4) scale(0.9 1)" font-size="9.5" text-anchor="middle" fill="#222">0</text>
<text transform="translate(372.8 150.8) scale(0.9 1)" font-size="9.5" text-anchor="middle" fill="#222">1</text>
<text transform="translate(372.8 116.2) scale(0.9 1)" font-size="9.5" text-anchor="middle" fill="#222">2</text>
<text transform="translate(372.8 81.6) scale(0.9 1)" font-size="9.5" text-anchor="middle" fill="#222">3</text>
<text transform="translate(372.8 47.0) scale(0.9 1)" font-size="9.5" text-anchor="middle" fill="#222">4</text>
<text transform="translate(372.8 12.4) scale(0.9 1)" font-size="9.5" text-anchor="middle" fill="#222">5</text>
<text transform="translate(376.5 195.4) scale(0.9 1)" font-size="9.5" text-anchor="middle" fill="#222">0</text>
<text transform="translate(429.2 195.4) scale(0.9 1)" font-size="9.5" text-anchor="middle" fill="#222">2</text>
<text transform="translate(481.4 195.4) scale(0.9 1)" font-size="9.5" text-anchor="middle" fill="#222">4</text>
<text transform="translate(533.8 195.4) scale(0.9 1)" font-size="9.5" text-anchor="middle" fill="#222">6</text>
<text transform="translate(560.0 13.4) scale(1.03 1)" font-size="6.7" text-anchor="start" fill="#222">1.000</text>
<text transform="translate(560.0 56.6) scale(1.03 1)" font-size="6.7" text-anchor="start" fill="#222">0.750</text>
<text transform="translate(560.0 100.0) scale(1.03 1)" font-size="6.7" text-anchor="start" fill="#222">0.500</text>
<text transform="translate(560.0 143.6) scale(1.03 1)" font-size="6.7" text-anchor="start" fill="#222">0.250</text>
<text transform="translate(560.0 187.0) scale(1.03 1)" font-size="6.7" text-anchor="start" fill="#222">0.000</text>
<text transform="translate(140.8 191.0) scale(0.92 1)" font-size="13.2" text-anchor="middle" fill="#111">0</text>
<text transform="translate(140.8 154.7) scale(0.92 1)" font-size="13.2" text-anchor="middle" fill="#111">1</text>
<text transform="translate(140.8 118.4) scale(0.92 1)" font-size="13.2" text-anchor="middle" fill="#111">2</text>
<text transform="translate(140.8 82.1) scale(0.92 1)" font-size="13.2" text-anchor="middle" fill="#111">3</text>
<text transform="translate(140.8 45.8) scale(0.92 1)" font-size="13.2" text-anchor="middle" fill="#111">4</text>
<text transform="translate(140.8 9.5) scale(0.92 1)" font-size="13.2" text-anchor="middle" fill="#111">5</text>
<text transform="translate(150.2 203.6) scale(0.92 1)" font-size="13.2" text-anchor="middle" fill="#111">0</text>
<text transform="translate(209.2 203.6) scale(0.92 1)" font-size="13.2" text-anchor="middle" fill="#111">2</text>
<text transform="translate(268.6 203.6) scale(0.92 1)" font-size="13.2" text-anchor="middle" fill="#111">4</text>
<text transform="translate(327.4 203.6) scale(0.92 1)" font-size="13.2" text-anchor="middle" fill="#111">6</text>
<text transform="translate(31.6 276.2) scale(0.92 1)" font-size="13.2" text-anchor="middle" fill="#111">4.9</text>
<text transform="translate(31.6 336.0) scale(0.92 1)" font-size="13.2" text-anchor="middle" fill="#111">4.5</text>
<text transform="translate(31.6 395.8) scale(0.92 1)" font-size="13.2" text-anchor="middle" fill="#111">4.1</text>
<text transform="translate(31.6 456.0) scale(0.92 1)" font-size="13.2" text-anchor="middle" fill="#111">3.7</text>
<text transform="translate(46.0 467.4) scale(0.92 1)" font-size="13.2" text-anchor="middle" fill="#111">0.6</text>
<text transform="translate(88.8 467.4) scale(0.92 1)" font-size="13.2" text-anchor="middle" fill="#111">0.7</text>
<text transform="translate(131.4 467.4) scale(0.92 1)" font-size="13.2" text-anchor="middle" fill="#111">0.8</text>
<text transform="translate(174.0 467.4) scale(0.92 1)" font-size="13.2" text-anchor="middle" fill="#111">0.9</text>
<text transform="translate(215.5 467.4) scale(0.92 1)" font-size="13.2" text-anchor="middle" fill="#111">1</text>
<text transform="translate(273.3 275.4) scale(0.92 1)" font-size="13.2" text-anchor="end" fill="#111">3.5</text>
<text transform="translate(273.3 319.8) scale(0.92 1)" font-size="13.2" text-anchor="end" fill="#111">3.25</text>
<text transform="translate(273.3 364.2) scale(0.92 1)" font-size="13.2" text-anchor="end" fill="#111">3</text>
<text transform="translate(273.3 408.4) scale(0.92 1)" font-size="13.2" text-anchor="end" fill="#111">2.75</text>
<text transform="translate(273.3 453.9) scale(0.92 1)" font-size="13.2" text-anchor="end" fill="#111">2.5</text>
<text transform="translate(280.5 466.2) scale(0.92 1)" font-size="13.2" text-anchor="middle" fill="#111">1.05</text>
<text transform="translate(313.4 466.2) scale(0.92 1)" font-size="13.2" text-anchor="middle" fill="#111">1.12</text>
<text transform="translate(345.8 466.2) scale(0.92 1)" font-size="13.2" text-anchor="middle" fill="#111">1.19</text>
<text transform="translate(378.2 466.2) scale(0.92 1)" font-size="13.2" text-anchor="middle" fill="#111">1.26</text>
<text transform="translate(411.5 466.2) scale(0.92 1)" font-size="13.2" text-anchor="middle" fill="#111">1.33</text>
<text transform="translate(445.0 466.2) scale(0.92 1)" font-size="13.2" text-anchor="middle" fill="#111">1.4</text>
<text transform="translate(496.7 275.0) scale(0.92 1)" font-size="13.2" text-anchor="middle" fill="#111">4.2</text>
<text transform="translate(496.7 335.4) scale(0.92 1)" font-size="13.2" text-anchor="middle" fill="#111">3.2</text>
<text transform="translate(496.7 395.4) scale(0.92 1)" font-size="13.2" text-anchor="middle" fill="#111">2.2</text>
<text transform="translate(496.7 455.9) scale(0.92 1)" font-size="13.2" text-anchor="middle" fill="#111">1.2</text>
<text transform="translate(509.5 466.9) scale(0.92 1)" font-size="13.2" text-anchor="middle" fill="#111">3</text>
<text transform="translate(565.0 466.9) scale(0.92 1)" font-size="13.2" text-anchor="middle" fill="#111">3.2</text>
<text transform="translate(621.5 466.9) scale(0.92 1)" font-size="13.2" text-anchor="middle" fill="#111">3.4</text>
<text transform="translate(678.0 466.9) scale(0.92 1)" font-size="13.2" text-anchor="middle" fill="#111">3.6</text>
<line x1="60.16" x2="63.40" y1="303.43" y2="303.43" stroke="#000" stroke-width="0.67"/>
<text x="58.0" y="309.4" font-size="9" text-anchor="middle" fill="#000" stroke="#000" stroke-width="0.3">3-<tspan font-style="italic" font-weight="bold" stroke="none">p</tspan></text>
<line x1="60.56" x2="63.80" y1="335.03" y2="335.03" stroke="#000" stroke-width="0.67"/>
<text x="58.4" y="341.0" font-size="9" text-anchor="middle" fill="#000" stroke="#000" stroke-width="0.3">2-<tspan font-style="italic" font-weight="bold" stroke="none">p</tspan></text>
<line x1="63.16" x2="66.40" y1="366.63" y2="366.63" stroke="#000" stroke-width="0.67"/>
<text x="61.0" y="372.6" font-size="9" text-anchor="middle" fill="#000" stroke="#000" stroke-width="0.3">1-<tspan font-style="italic" font-weight="bold" stroke="none">p</tspan></text>
<text x="50.6" y="413.4" font-size="9" text-anchor="middle" fill="#000" stroke="#000" stroke-width="0.3">2-6</text>
<text x="74.4" y="413.0" font-size="9" text-anchor="middle" fill="#000" stroke="#000" stroke-width="0.3">1-6</text>
<line x1="52.56" x2="55.80" y1="427.43" y2="427.43" stroke="#000" stroke-width="0.67"/>
<text x="50.4" y="433.4" font-size="9" text-anchor="middle" fill="#000" stroke="#000" stroke-width="0.3">2-<tspan font-style="italic" font-weight="bold" stroke="none">p</tspan></text>
<text x="74.0" y="440.6" font-size="9" text-anchor="middle" fill="#000" stroke="#000" stroke-width="0.3">1-5</text>
<text x="119.0" y="420.0" font-size="9" text-anchor="middle" fill="#000" stroke="#000" stroke-width="0.3">1-4</text>
<text x="118.5" y="440.0" font-size="9" text-anchor="middle" fill="#000" stroke="#000" stroke-width="0.3">1-3</text>
<line x1="124.16" x2="127.40" y1="378.03" y2="378.03" stroke="#000" stroke-width="0.67"/>
<text x="122.0" y="384.0" font-size="9" text-anchor="middle" fill="#000" stroke="#000" stroke-width="0.3">4-<tspan font-style="italic" font-weight="bold" stroke="none">p</tspan></text>
<line x1="128.46" x2="131.70" y1="388.03" y2="388.03" stroke="#000" stroke-width="0.67"/>
<text x="126.3" y="394.0" font-size="9" text-anchor="middle" fill="#000" stroke="#000" stroke-width="0.3">5-<tspan font-style="italic" font-weight="bold" stroke="none">p</tspan></text>
<line x1="131.76" x2="135.00" y1="403.23" y2="403.23" stroke="#000" stroke-width="0.67"/>
<text x="129.6" y="409.2" font-size="9" text-anchor="middle" fill="#000" stroke="#000" stroke-width="0.3">6-<tspan font-style="italic" font-weight="bold" stroke="none">p</tspan></text>
<line x1="141.56" x2="144.80" y1="274.03" y2="274.03" stroke="#000" stroke-width="0.67"/>
<text x="139.4" y="280.0" font-size="9" text-anchor="middle" fill="#000" stroke="#000" stroke-width="0.3">3-<tspan font-style="italic" font-weight="bold" stroke="none">p</tspan></text>
<text x="144.4" y="290.0" font-size="9" text-anchor="middle" fill="#000" stroke="#000" stroke-width="0.3">3-6</text>
<text x="146.6" y="301.4" font-size="9" text-anchor="middle" fill="#000" stroke="#000" stroke-width="0.3">3-5</text>
<text x="148.0" y="311.4" font-size="9" text-anchor="middle" fill="#000" stroke="#000" stroke-width="0.3">2-4</text>
<text x="151.0" y="324.4" font-size="9" text-anchor="middle" fill="#000" stroke="#000" stroke-width="0.3">2-5</text>
<text x="154.4" y="335.0" font-size="9" text-anchor="middle" fill="#000" stroke="#000" stroke-width="0.3">2-6</text>
<line x1="160.16" x2="163.40" y1="341.03" y2="341.03" stroke="#000" stroke-width="0.67"/>
<text x="158.0" y="347.0" font-size="9" text-anchor="middle" fill="#000" stroke="#000" stroke-width="0.3">2-<tspan font-style="italic" font-weight="bold" stroke="none">p</tspan></text>
<text x="162.0" y="358.6" font-size="9" text-anchor="middle" fill="#000" stroke="#000" stroke-width="0.3">3-3</text>
<line x1="183.16" x2="186.40" y1="353.03" y2="353.03" stroke="#000" stroke-width="0.67"/>
<text x="181.0" y="359.0" font-size="9" text-anchor="middle" fill="#000" stroke="#000" stroke-width="0.3">1-<tspan font-style="italic" font-weight="bold" stroke="none">p</tspan></text>
<text x="191.0" y="286.6" font-size="9" text-anchor="middle" fill="#000" stroke="#000" stroke-width="0.3">1-2</text>
<text x="194.0" y="302.6" font-size="9" text-anchor="middle" fill="#000" stroke="#000" stroke-width="0.3">2-4</text>
<text x="197.0" y="329.0" font-size="9" text-anchor="middle" fill="#000" stroke="#000" stroke-width="0.3">1-2</text>
<text x="201.0" y="363.6" font-size="9" text-anchor="middle" fill="#000" stroke="#000" stroke-width="0.3">2-3</text>
<text x="138.0" y="423.0" font-size="9" text-anchor="middle" fill="#000" stroke="#000" stroke-width="0.3">4-5</text>
<text x="146.6" y="440.0" font-size="9" text-anchor="middle" fill="#000" stroke="#000" stroke-width="0.3">1-2</text>
<text x="169.4" y="433.0" font-size="9" text-anchor="middle" fill="#000" stroke="#000" stroke-width="0.3">2-2</text>
<text x="187.0" y="445.4" font-size="9" text-anchor="middle" fill="#000" stroke="#000" stroke-width="0.3">1-1</text>
<text x="185.0" y="386.0" font-size="9" text-anchor="middle" fill="#000" stroke="#000" stroke-width="0.3">2-1</text>
<text x="188.6" y="407.0" font-size="9" text-anchor="middle" fill="#000" stroke="#000" stroke-width="0.3">4-4</text>
<text x="192.0" y="430.0" font-size="9" text-anchor="middle" fill="#000" stroke="#000" stroke-width="0.3">4-3</text>
<text x="295.0" y="347.4" font-size="9" text-anchor="middle" fill="#000" stroke="#000" stroke-width="0.3">3-3</text>
<text x="353.0" y="290.6" font-size="9" text-anchor="middle" fill="#000" stroke="#000" stroke-width="0.3">2-3</text>
<text x="355.6" y="320.6" font-size="9" text-anchor="middle" fill="#000" stroke="#000" stroke-width="0.3">4-6</text>
<text x="416.4" y="279.4" font-size="9" text-anchor="middle" fill="#000" stroke="#000" stroke-width="0.3">5-5</text>
<text x="377.6" y="306.6" font-size="9" text-anchor="middle" fill="#000" stroke="#000" stroke-width="0.3">6-6</text>
<line x1="383.56" x2="386.80" y1="316.03" y2="316.03" stroke="#000" stroke-width="0.67"/>
<text x="381.4" y="322.0" font-size="9" text-anchor="middle" fill="#000" stroke="#000" stroke-width="0.3">6-<tspan font-style="italic" font-weight="bold" stroke="none">p</tspan></text>
<line x1="396.16" x2="399.40" y1="344.03" y2="344.03" stroke="#000" stroke-width="0.67"/>
<text x="394.0" y="350.0" font-size="9" text-anchor="middle" fill="#000" stroke="#000" stroke-width="0.3">4-<tspan font-style="italic" font-weight="bold" stroke="none">p</tspan></text>
<text x="431.4" y="328.0" font-size="9" text-anchor="middle" fill="#000" stroke="#000" stroke-width="0.3">2-2</text>
<text x="293.6" y="383.0" font-size="9" text-anchor="middle" fill="#000" stroke="#000" stroke-width="0.3">1-1</text>
<text x="311.0" y="405.6" font-size="9" text-anchor="middle" fill="#000" stroke="#000" stroke-width="0.3">6-6</text>
<text x="320.0" y="445.6" font-size="9" text-anchor="middle" fill="#000" stroke="#000" stroke-width="0.3">8-8</text>
<text x="347.2" y="435.2" font-size="9" text-anchor="middle" fill="#000" stroke="#000" stroke-width="0.3">4-4</text>
<text x="392.0" y="414.0" font-size="9" text-anchor="middle" fill="#000" stroke="#000" stroke-width="0.3">4-5</text>
<text x="424.4" y="412.0" font-size="9" text-anchor="middle" fill="#000" stroke="#000" stroke-width="0.3">2-4</text>
<text x="376.4" y="444.0" font-size="9" text-anchor="middle" fill="#000" stroke="#000" stroke-width="0.3">2-2</text>
<text x="532.4" y="297.6" font-size="9" text-anchor="middle" fill="#000" stroke="#000" stroke-width="0.3">3-2</text>
<text x="559.4" y="283.4" font-size="9" text-anchor="middle" fill="#000" stroke="#000" stroke-width="0.3">3-3</text>
<text x="532.4" y="321.0" font-size="9" text-anchor="middle" fill="#000" stroke="#000" stroke-width="0.3">6-6</text>
<text x="592.0" y="289.4" font-size="9" text-anchor="middle" fill="#000" stroke="#000" stroke-width="0.3">7-4</text>
<text x="624.0" y="279.4" font-size="9" text-anchor="middle" fill="#000" stroke="#000" stroke-width="0.3">8-6</text>
<text x="663.0" y="390.0" font-size="9" text-anchor="middle" fill="#000" stroke="#000" stroke-width="0.3">6-3</text>
<text x="637.0" y="426.0" font-size="9" text-anchor="middle" fill="#000" stroke="#000" stroke-width="0.3">8-4</text>
<text x="628.0" y="440.6" font-size="9" text-anchor="middle" fill="#000" stroke="#000" stroke-width="0.3">4-2</text>
<text x="663.0" y="440.6" font-size="9" text-anchor="middle" fill="#000" stroke="#000" stroke-width="0.3">2-1</text>
<line x1="650.16" x2="653.40" y1="289.63" y2="289.63" stroke="#fff" stroke-width="0.67"/>
<text x="648.0" y="295.6" font-size="9" text-anchor="middle" fill="#fff" stroke="#fff" stroke-width="0.3">9-<tspan font-style="italic" font-weight="bold" stroke="none">p</tspan></text>
<line x1="655.16" x2="658.40" y1="335.03" y2="335.03" stroke="#fff" stroke-width="0.67"/>
<text x="653.0" y="341.0" font-size="9" text-anchor="middle" fill="#fff" stroke="#fff" stroke-width="0.3">8-<tspan font-style="italic" font-weight="bold" stroke="none">p</tspan></text>
<text x="639.0" y="357.6" font-size="9" text-anchor="middle" fill="#fff" stroke="#fff" stroke-width="0.3">8-6</text>
<text x="628.0" y="369.6" font-size="9" text-anchor="middle" fill="#fff" stroke="#fff" stroke-width="0.3">8-5</text>
<text x="615.0" y="381.0" font-size="9" text-anchor="middle" fill="#fff" stroke="#fff" stroke-width="0.3">8-4</text>
<text x="579.0" y="418.6" font-size="9" text-anchor="middle" fill="#fff" stroke="#fff" stroke-width="0.3">5-2</text>
<text x="545.4" y="430.0" font-size="9" text-anchor="middle" fill="#fff" stroke="#fff" stroke-width="0.3">4-4</text>
</svg>
</body></html>
